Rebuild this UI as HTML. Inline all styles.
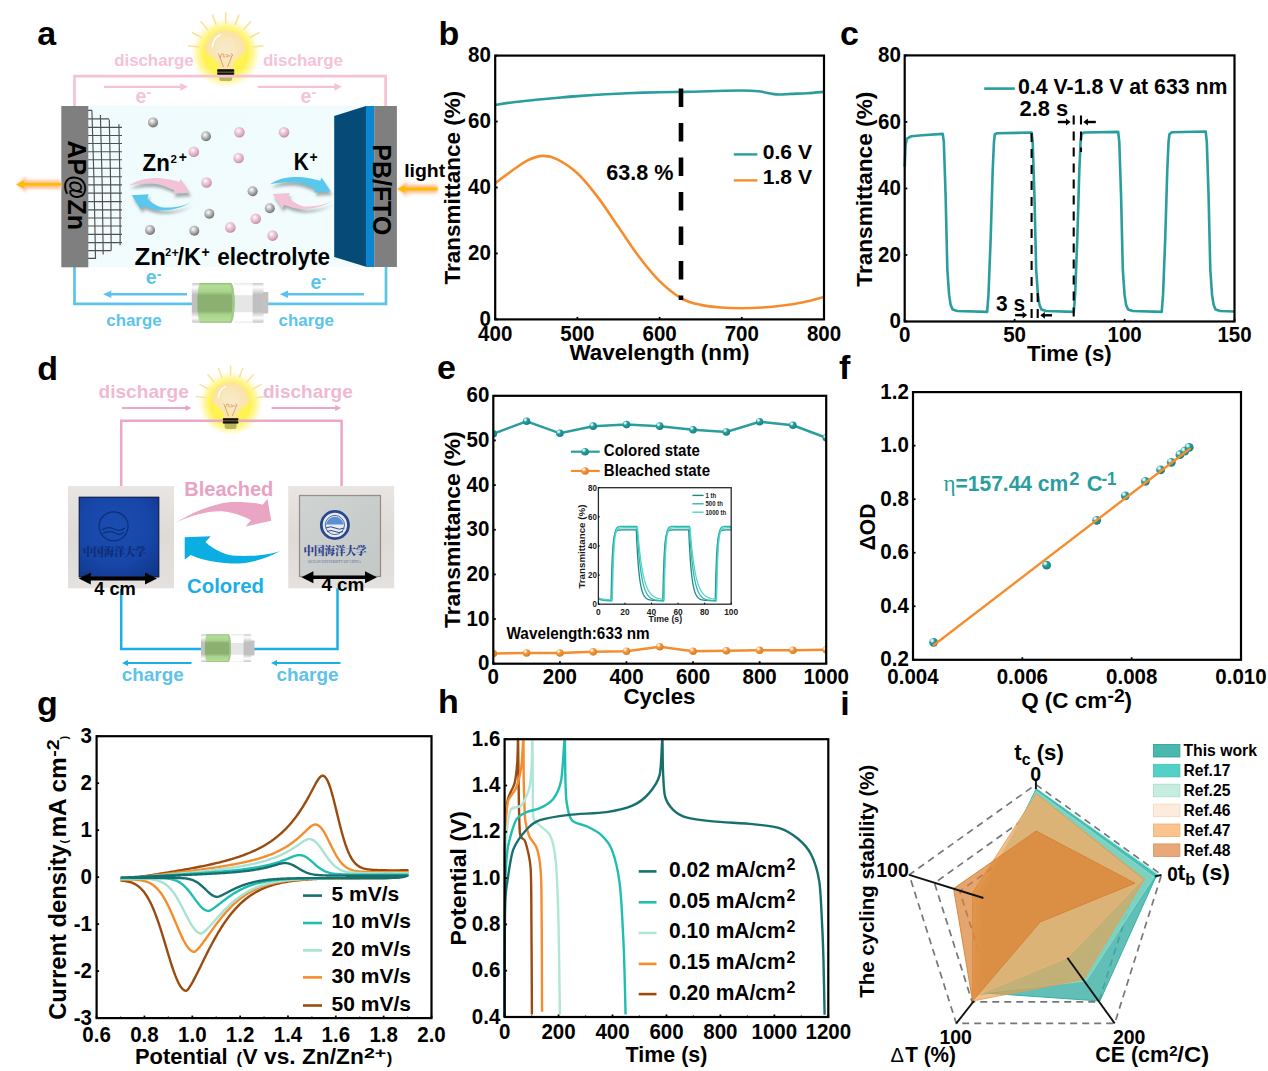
<!DOCTYPE html>
<html><head><meta charset="utf-8"><style>html,body{margin:0;padding:0;background:#fff;}svg{display:block;}</style></head>
<body><svg width="1268" height="1071" viewBox="0 0 1268 1071" font-family='"Liberation Sans", Arial, sans-serif'>
<defs><radialGradient id="gTeal" cx="0.38" cy="0.35" r="0.7"><stop offset="0" stop-color="#D8F4F4"/><stop offset="0.3" stop-color="#48B2B2"/><stop offset="1" stop-color="#17807F"/></radialGradient>
<radialGradient id="gTealF" cx="0.33" cy="0.3" r="0.75"><stop offset="0" stop-color="#F2FFFF"/><stop offset="0.18" stop-color="#BFE8E8"/><stop offset="0.38" stop-color="#25A09E"/><stop offset="1" stop-color="#177F7D"/></radialGradient>
<radialGradient id="gOrF" cx="0.33" cy="0.3" r="0.75"><stop offset="0" stop-color="#FFFFFF"/><stop offset="0.18" stop-color="#FDE2C4"/><stop offset="0.38" stop-color="#F39A44"/><stop offset="1" stop-color="#D97718"/></radialGradient>
<radialGradient id="gOr" cx="0.38" cy="0.35" r="0.7"><stop offset="0" stop-color="#FFF2E0"/><stop offset="0.35" stop-color="#F8AE64"/><stop offset="1" stop-color="#E07A18"/></radialGradient><radialGradient id="gPinkBall" cx="0.4" cy="0.35" r="0.65"><stop offset="0" stop-color="#FFFFFF"/><stop offset="0.3" stop-color="#F4D4E2"/><stop offset="0.8" stop-color="#D7A6BC"/><stop offset="1" stop-color="#B88AA0"/></radialGradient>
<radialGradient id="gGrayBall" cx="0.4" cy="0.35" r="0.65"><stop offset="0" stop-color="#FFFFFF"/><stop offset="0.3" stop-color="#D2D2D2"/><stop offset="0.8" stop-color="#8E8E8E"/><stop offset="1" stop-color="#6A6A6A"/></radialGradient>
<radialGradient id="gGlow" cx="0.5" cy="0.5" r="0.5"><stop offset="0" stop-color="#FFF36A"/><stop offset="0.6" stop-color="#FFF24E"/><stop offset="0.78" stop-color="#FFF690" stop-opacity="0.85"/><stop offset="0.9" stop-color="#FFFAC8" stop-opacity="0.5"/><stop offset="1" stop-color="#FFFFFF" stop-opacity="0"/></radialGradient>
<radialGradient id="gGlass" cx="0.5" cy="0.55" r="0.5"><stop offset="0" stop-color="#F7EBC8"/><stop offset="0.6" stop-color="#FAE6B4"/><stop offset="1" stop-color="#FCE3A6"/></radialGradient>
<linearGradient id="gCell" x1="0" y1="0" x2="1" y2="1"><stop offset="0" stop-color="#EFFBFD"/><stop offset="1" stop-color="#F3FCFD"/></linearGradient>
<linearGradient id="gBatGray" x1="0" y1="0" x2="0" y2="1"><stop offset="0" stop-color="#C4C4C4"/><stop offset="0.1" stop-color="#FFFFFF"/><stop offset="0.3" stop-color="#C0C0C0"/><stop offset="0.72" stop-color="#C0C0C0"/><stop offset="0.88" stop-color="#FFFFFF"/><stop offset="1" stop-color="#C4C4C4"/></linearGradient>
<linearGradient id="gBatGreen" x1="0" y1="0" x2="0" y2="1"><stop offset="0" stop-color="#8DB673"/><stop offset="0.06" stop-color="#B4DE98"/><stop offset="0.22" stop-color="#A9D48C"/><stop offset="0.32" stop-color="#8BB070"/><stop offset="0.7" stop-color="#8BB070"/><stop offset="0.8" stop-color="#A9D48C"/><stop offset="0.95" stop-color="#B4DE98"/><stop offset="1" stop-color="#8DB673"/></linearGradient>
<linearGradient id="gBatClear" x1="0" y1="0" x2="0" y2="1"><stop offset="0" stop-color="#E8E8E8"/><stop offset="0.08" stop-color="#FFFFFF"/><stop offset="0.3" stop-color="#FFFFFF"/><stop offset="0.32" stop-color="#E6E6E6"/><stop offset="0.72" stop-color="#E6E6E6"/><stop offset="0.75" stop-color="#FFFFFF"/><stop offset="0.95" stop-color="#FFFFFF"/><stop offset="1" stop-color="#E8E8E8"/></linearGradient>
<filter id="fShadow" x="-20%" y="-30%" width="140%" height="180%"><feGaussianBlur stdDeviation="1.6"/></filter>
<filter id="fGlowO" x="-30%" y="-100%" width="160%" height="300%"><feGaussianBlur stdDeviation="1.8"/></filter>
<radialGradient id="gPhotoL" cx="0.45" cy="0.4" r="0.75"><stop offset="0" stop-color="#1A4DB0"/><stop offset="0.6" stop-color="#1746A8"/><stop offset="1" stop-color="#10368A"/></radialGradient>
<linearGradient id="gPhotoR" x1="0" y1="0" x2="1" y2="1"><stop offset="0" stop-color="#CFD3D2"/><stop offset="1" stop-color="#C3C7C6"/></linearGradient>
<linearGradient id="gFrame" x1="0" y1="0" x2="0" y2="1"><stop offset="0" stop-color="#E9E5E2"/><stop offset="0.5" stop-color="#DEDAD6"/><stop offset="1" stop-color="#E5E1DE"/></linearGradient><clipPath id="clipE"><rect x="493.3" y="395.8" width="332.90" height="267.90"/></clipPath></defs>
<rect width="1268" height="1071" fill="#fff"/>
<text x="37.2" y="45.3" font-size="34" fill="#000" font-weight="bold">a</text>
<path d="M74.5,266 V303.8 H192 M268,303.8 H386 V266" fill="none" stroke="#5CC4EA" stroke-width="2.7"/>
<g transform="translate(225.7,50.3) scale(1.0)"><circle cx="0" cy="3" r="36" fill="url(#gGlow)"/><line x1="-27.30" y1="-3.35" x2="-37.22" y2="-4.57" stroke="#F8E2A4" stroke-width="1.7" stroke-linecap="round"/><line x1="-24.28" y1="-12.91" x2="-33.11" y2="-17.61" stroke="#F8E2A4" stroke-width="1.7" stroke-linecap="round"/><line x1="-18.04" y1="-20.75" x2="-24.60" y2="-28.30" stroke="#F8E2A4" stroke-width="1.7" stroke-linecap="round"/><line x1="-9.63" y1="-25.76" x2="-13.13" y2="-35.13" stroke="#F8E2A4" stroke-width="1.7" stroke-linecap="round"/><line x1="0.00" y1="-27.50" x2="0.00" y2="-37.50" stroke="#F8E2A4" stroke-width="1.7" stroke-linecap="round"/><line x1="9.63" y1="-25.76" x2="13.13" y2="-35.13" stroke="#F8E2A4" stroke-width="1.7" stroke-linecap="round"/><line x1="18.04" y1="-20.75" x2="24.60" y2="-28.30" stroke="#F8E2A4" stroke-width="1.7" stroke-linecap="round"/><line x1="24.28" y1="-12.91" x2="33.11" y2="-17.61" stroke="#F8E2A4" stroke-width="1.7" stroke-linecap="round"/><line x1="27.30" y1="-3.35" x2="37.22" y2="-4.57" stroke="#F8E2A4" stroke-width="1.7" stroke-linecap="round"/><path d="M-20.4,0 A20.4,20.4 0 1 1 20.4,0 L19.5,2 C16,5 10.5,8.5 8.3,11.5 C7,13.5 6.6,16 6.6,19 L-6.6,19 C-6.6,16 -7,13.5 -8.3,11.5 C-10.5,8.5 -16,5 -19.5,2 Z" fill="url(#gGlass)"/><rect x="-9.5" y="-13" width="19" height="22" rx="8" fill="#F6E9C8" opacity="0.6"/><path d="M-13.2,-3.5 A14,14 0 0 1 -5.5,-15.5" fill="none" stroke="#FFFFFF" stroke-width="1.4" stroke-linecap="round"/><path d="M-7.5,3.2 L-5.6,7.6 L-4.2,3.4 M-3.8,4 C-2.5,3 -1.2,4 -2,5.5 C-2.8,7 -1,7.5 -0.5,6 M0,4.5 C1.5,3.5 2.5,5.5 1,6.5 C2.5,7 3.5,5 3,4.5 M3.8,5.8 L5.2,5.6 M5.3,3.6 C7,3.2 7.2,5.5 6,6.2 M-5.6,7.6 L-2.2,16.7 M6.3,5.5 L1.8,16.7" fill="none" stroke="#D9874A" stroke-width="0.75"/><rect x="-6.5" y="23.5" width="13" height="7.2" rx="2.5" fill="#B9B462"/><rect x="-8.6" y="19" width="17.2" height="5.6" rx="1.5" fill="#9C9430"/><rect x="-8.6" y="19" width="17.2" height="2.5" rx="1.1" fill="#111"/><rect x="-8.6" y="22.3" width="17.2" height="2.3" rx="1.1" fill="#111"/></g>
<path d="M74.5,107 V76.2 H385.6 V107" fill="none" stroke="#F4C3D8" stroke-width="2.7"/>
<text x="114.2" y="66.2" font-size="16" fill="#F4C3D8" font-weight="bold" textLength="79.5" lengthAdjust="spacingAndGlyphs">discharge</text>
<text x="263.0" y="66.2" font-size="16" fill="#F4C3D8" font-weight="bold" textLength="80.0" lengthAdjust="spacingAndGlyphs">discharge</text>
<line x1="104" y1="86.8" x2="181.8" y2="86.8" stroke="#F4C3D8" stroke-width="2.3"/>
<path d="M188,86.8 L180.3,82.9 L180.3,90.7 Z" fill="#F4C3D8"/>
<line x1="258" y1="86.8" x2="335.8" y2="86.8" stroke="#F4C3D8" stroke-width="2.3"/>
<path d="M342,86.8 L334.3,82.9 L334.3,90.7 Z" fill="#F4C3D8"/>
<text x="135.6" y="102.8" font-size="19.5" fill="#F4C3D8" font-weight="bold">e<tspan font-size="14" dy="-5.6">-</tspan></text>
<text x="300.6" y="102.8" font-size="19.5" fill="#F4C3D8" font-weight="bold">e<tspan font-size="14" dy="-5.6">-</tspan></text>
<rect x="88" y="105.5" width="278" height="161.5" fill="url(#gCell)"/>
<path d="M91.9,110.4 Q94.5,184.75 95.5,259.1 M100.4,115 Q102.60000000000001,184.75 103.2,254.5 M109.3,119.6 Q111.05,185.1 111.2,250.6 M118.9,124.3 Q120.3,184.75 120.1,245.2 M88,110.4 H92 M88,118.9 H109 M88,127.3 H122 M88,135.5 H122 M88,143.5 H122 M88,151.7 H122 M88,159.7 H122 M88,168.2 H122 M88,176.7 H122 M88,184.8 H122 M88,193.1 H122 M88,201.6 H122 M88,209.8 H122 M88,218 H122 M88,226 H122 M88,234.4 H122 M88,242.6 H122 M88,250.6 H111.2 M88,258.3 H95.5" fill="none" stroke="#505050" stroke-width="1.15"/>
<rect x="61.3" y="106" width="27" height="161.3" fill="#7F7F7F"/>
<text transform="translate(67.6,140.4) rotate(90)" x="0" y="0" font-size="26" fill="#000" font-weight="bold" textLength="89.6" lengthAdjust="spacingAndGlyphs">AP@Zn</text>
<path d="M334.2,116 L366,106 L366,266.8 L334.2,257 Z" fill="#064A77"/>
<rect x="366" y="106" width="8.3" height="161" fill="#0C86CE"/>
<rect x="374.2" y="106" width="22.7" height="161" fill="#7F7F7F"/>
<text transform="translate(373.4,144.3) rotate(90)" x="0" y="0" font-size="26" fill="#000" font-weight="bold" textLength="91.0" lengthAdjust="spacingAndGlyphs">PB/FTO</text>
<circle cx="153.0" cy="122.4" r="5.0" fill="url(#gGrayBall)"/>
<circle cx="206.0" cy="136.3" r="5.0" fill="url(#gGrayBall)"/>
<circle cx="239.4" cy="132.3" r="5.3" fill="url(#gPinkBall)"/>
<circle cx="284.0" cy="132.3" r="5.3" fill="url(#gPinkBall)"/>
<circle cx="193.8" cy="151.7" r="5.3" fill="url(#gPinkBall)"/>
<circle cx="238.6" cy="158.0" r="5.3" fill="url(#gPinkBall)"/>
<circle cx="206.5" cy="182.5" r="5.3" fill="url(#gPinkBall)"/>
<circle cx="252.6" cy="191.3" r="5.0" fill="url(#gGrayBall)"/>
<circle cx="269.8" cy="208.3" r="5.0" fill="url(#gGrayBall)"/>
<circle cx="209.3" cy="213.8" r="5.0" fill="url(#gGrayBall)"/>
<circle cx="255.7" cy="218.8" r="5.3" fill="url(#gPinkBall)"/>
<circle cx="230.3" cy="227.4" r="5.3" fill="url(#gPinkBall)"/>
<circle cx="194.3" cy="230.7" r="5.0" fill="url(#gGrayBall)"/>
<circle cx="150.0" cy="230.0" r="5.0" fill="url(#gGrayBall)"/>
<circle cx="272.6" cy="235.6" r="5.3" fill="url(#gPinkBall)"/>
<text x="142.6" y="171.0" font-size="23" fill="#000" font-weight="bold" textLength="27.2" lengthAdjust="spacingAndGlyphs">Zn</text>
<text x="170.6" y="163.1" font-size="11.5" fill="#000" font-weight="bold">2</text>
<text x="178.7" y="162.3" font-size="14" fill="#000" font-weight="bold">+</text>
<text x="293.8" y="169.8" font-size="23" fill="#000" font-weight="bold" textLength="15.1" lengthAdjust="spacingAndGlyphs">K</text>
<text x="309.5" y="162.3" font-size="14" fill="#000" font-weight="bold">+</text>
<g transform="translate(0,0)"><g filter="url(#fShadow)" opacity="0.55"><path d="M129.1,185.5 C134,182 140,179 151.5,178.2 C162,177.6 172,179.8 179.2,181.9 L180.6,178.8 L189.7,192.7 L173,193.7 L174.5,190.2 C168,187.5 160,183.6 151.5,183.4 C141,183.2 134,184.3 129.1,185.5 Z" transform="translate(1.5,3.5)" fill="#5E6E6E"/><path d="M192.2,201.2 C186,205.5 176,207.8 164.2,207.6 C157,207.3 151.5,202.3 147.2,198.8 L148.7,194.3 L131.7,195.2 L141.1,209.4 L143.4,205.9 C150,208.5 157,210.6 164.2,210.3 C177,209.7 186,205.6 192.2,201.2 Z" transform="translate(1.5,3.5)" fill="#5E6E6E"/></g><path d="M129.1,185.5 C134,182 140,179 151.5,178.2 C162,177.6 172,179.8 179.2,181.9 L180.6,178.8 L189.7,192.7 L173,193.7 L174.5,190.2 C168,187.5 160,183.6 151.5,183.4 C141,183.2 134,184.3 129.1,185.5 Z" fill="#F2C3D7"/><path d="M192.2,201.2 C186,205.5 176,207.8 164.2,207.6 C157,207.3 151.5,202.3 147.2,198.8 L148.7,194.3 L131.7,195.2 L141.1,209.4 L143.4,205.9 C150,208.5 157,210.6 164.2,210.3 C177,209.7 186,205.6 192.2,201.2 Z" fill="#5AC8EC"/></g>
<g transform="translate(141,-1.2)"><g filter="url(#fShadow)" opacity="0.55"><path d="M129.1,185.5 C134,182 140,179 151.5,178.2 C162,177.6 172,179.8 179.2,181.9 L180.6,178.8 L189.7,192.7 L173,193.7 L174.5,190.2 C168,187.5 160,183.6 151.5,183.4 C141,183.2 134,184.3 129.1,185.5 Z" transform="translate(1.5,3.5)" fill="#5E6E6E"/><path d="M192.2,201.2 C186,205.5 176,207.8 164.2,207.6 C157,207.3 151.5,202.3 147.2,198.8 L148.7,194.3 L131.7,195.2 L141.1,209.4 L143.4,205.9 C150,208.5 157,210.6 164.2,210.3 C177,209.7 186,205.6 192.2,201.2 Z" transform="translate(1.5,3.5)" fill="#5E6E6E"/></g><path d="M129.1,185.5 C134,182 140,179 151.5,178.2 C162,177.6 172,179.8 179.2,181.9 L180.6,178.8 L189.7,192.7 L173,193.7 L174.5,190.2 C168,187.5 160,183.6 151.5,183.4 C141,183.2 134,184.3 129.1,185.5 Z" fill="#5AC8EC"/><path d="M192.2,201.2 C186,205.5 176,207.8 164.2,207.6 C157,207.3 151.5,202.3 147.2,198.8 L148.7,194.3 L131.7,195.2 L141.1,209.4 L143.4,205.9 C150,208.5 157,210.6 164.2,210.3 C177,209.7 186,205.6 192.2,201.2 Z" fill="#F2C3D7"/></g>
<text x="134.5" y="264.5" font-size="23.5" fill="#000" font-weight="bold" textLength="31.6" lengthAdjust="spacingAndGlyphs">Zn</text>
<text x="165.2" y="255.8" font-size="10.5" fill="#000" font-weight="bold">2</text>
<text x="171.6" y="256.9" font-size="12.5" fill="#000" font-weight="bold">+</text>
<text x="177.6" y="264.5" font-size="23.5" fill="#000" font-weight="bold" textLength="23.3" lengthAdjust="spacingAndGlyphs">/K</text>
<text x="201.5" y="256.9" font-size="14" fill="#000" font-weight="bold">+</text>
<text x="217.2" y="264.5" font-size="23.5" fill="#000" font-weight="bold" textLength="112.9" lengthAdjust="spacingAndGlyphs">electrolyte</text>
<line x1="187" y1="294.3" x2="109.6" y2="294.3" stroke="#5CC4EA" stroke-width="2.4"/>
<path d="M103,294.3 L111.3,290.6 L111.3,298.0 Z" fill="#5CC4EA"/>
<line x1="364" y1="294.3" x2="286.3" y2="294.3" stroke="#5CC4EA" stroke-width="2.4"/>
<path d="M279.7,294.3 L288.0,290.6 L288.0,298.0 Z" fill="#5CC4EA"/>
<text x="145.8" y="284.4" font-size="19.5" fill="#5CC4EA" font-weight="bold">e<tspan font-size="14" dy="-5.8">-</tspan></text>
<text x="310.6" y="289.0" font-size="19.5" fill="#5CC4EA" font-weight="bold">e<tspan font-size="14" dy="-5.8">-</tspan></text>
<text x="106.3" y="325.5" font-size="16.8" fill="#5CC4EA" font-weight="bold" textLength="55.3" lengthAdjust="spacingAndGlyphs">charge</text>
<text x="278.6" y="325.5" font-size="16.8" fill="#5CC4EA" font-weight="bold" textLength="55.3" lengthAdjust="spacingAndGlyphs">charge</text>
<g transform="translate(191.8,282.9) scale(1.0)"><rect x="0" y="0" width="11" height="39.8" rx="2" fill="url(#gBatGray)"/><rect x="42" y="0" width="19.5" height="39.8" fill="url(#gBatClear)"/><rect x="60.8" y="0" width="11" height="39.8" rx="1.5" fill="url(#gBatGray)"/><rect x="71" y="9" width="5.5" height="21.6" rx="1" fill="#C2C2C2"/><path d="M8.7,0 H39 A3.8,19.9 0 0 1 39,39.8 H8.7 A3.2,19.9 0 0 1 8.7,0 Z" fill="url(#gBatGreen)"/><path d="M38,0.6 A3.6,19.3 0 0 1 38,39.2" fill="none" stroke="#A3C98A" stroke-width="2.2"/></g>
<g filter="url(#fGlowO)" opacity="1"><line x1="61" y1="184.4" x2="24" y2="184.4" stroke="#FFC090" stroke-width="8.5"/><path d="M17,184.4 L26,176.4 L26,192.4 Z" fill="#FFBF90"/></g>
<line x1="61" y1="184.4" x2="23.5" y2="184.4" stroke="#FFBB00" stroke-width="2.8"/>
<path d="M16,184.4 L24,180.3 L24,188.5 Z" fill="#FFBB00"/>
<g filter="url(#fGlowO)" opacity="1"><line x1="437.5" y1="189" x2="405" y2="189" stroke="#FFC090" stroke-width="8.5"/><path d="M398,189 L407,181 L407,197 Z" fill="#FFBF90"/></g>
<line x1="437.5" y1="189" x2="404.5" y2="189" stroke="#FFBB00" stroke-width="2.8"/>
<path d="M397,189 L405,184.9 L405,193.1 Z" fill="#FFBB00"/>
<text x="404.2" y="176.6" font-size="17.5" fill="#000" font-weight="bold" textLength="41.0" lengthAdjust="spacingAndGlyphs">light</text>
<path d="M495.20,105.06 C497.94,104.62 504.79,103.30 511.64,102.42 C518.49,101.55 528.08,100.61 536.30,99.79 C544.52,98.96 554.11,98.08 560.96,97.48 C567.81,96.87 570.55,96.65 577.40,96.16 C584.25,95.66 593.84,95.01 602.06,94.51 C610.28,94.02 617.13,93.58 626.72,93.19 C636.31,92.81 650.01,92.42 659.60,92.20 C669.19,91.98 676.04,92.04 684.26,91.87 C692.48,91.71 699.33,91.43 708.92,91.21 C718.51,90.99 733.58,90.55 741.80,90.55 C750.02,90.55 753.45,90.72 758.24,91.21 C763.03,91.71 767.14,92.97 770.57,93.52 C773.99,94.07 775.37,94.46 778.79,94.51 C782.21,94.57 786.33,94.07 791.12,93.85 C795.91,93.63 802.08,93.52 807.56,93.19 C813.04,92.86 821.26,92.09 824.00,91.87" fill="none" stroke="#2A9D9E" stroke-width="2.6"/>
<path d="M495.20,183.21 C497.94,181.18 506.16,174.86 511.64,171.01 C517.12,167.17 522.87,162.66 528.08,160.13 C533.29,157.60 538.08,156.01 542.88,155.84 C547.67,155.68 551.10,156.23 556.85,159.14 C562.60,162.05 570.55,166.95 577.40,173.32 C584.25,179.70 591.10,188.43 597.95,197.39 C604.80,206.35 611.65,217.18 618.50,227.07 C625.35,236.96 632.20,247.73 639.05,256.75 C645.90,265.76 652.48,274.17 659.60,281.15 C666.72,288.13 674.94,294.67 681.79,298.63 C688.64,302.58 694.12,303.41 700.70,304.89 C707.28,306.37 714.40,306.98 721.25,307.53 C728.10,308.08 734.95,308.19 741.80,308.19 C748.65,308.19 755.50,307.97 762.35,307.53 C769.20,307.09 776.05,306.43 782.90,305.55 C789.75,304.67 796.60,303.68 803.45,302.25 C810.30,300.82 820.58,297.86 824.00,296.98" fill="none" stroke="#F58D2E" stroke-width="2.6"/>
<line x1="681" y1="88.5" x2="681" y2="300" stroke="#000" stroke-width="4.6" stroke-dasharray="18.5,16"/>
<rect x="495.20" y="55.60" width="328.80" height="263.80" fill="none" stroke="#000" stroke-width="2.2"/>
<line x1="495.20" y1="319.40" x2="495.20" y2="316.90" stroke="#000" stroke-width="1.8"/>
<line x1="577.40" y1="319.40" x2="577.40" y2="316.90" stroke="#000" stroke-width="1.8"/>
<line x1="659.60" y1="319.40" x2="659.60" y2="316.90" stroke="#000" stroke-width="1.8"/>
<line x1="741.80" y1="319.40" x2="741.80" y2="316.90" stroke="#000" stroke-width="1.8"/>
<line x1="824.00" y1="319.40" x2="824.00" y2="316.90" stroke="#000" stroke-width="1.8"/>
<line x1="495.20" y1="319.40" x2="497.70" y2="319.40" stroke="#000" stroke-width="1.8"/>
<line x1="495.20" y1="253.45" x2="497.70" y2="253.45" stroke="#000" stroke-width="1.8"/>
<line x1="495.20" y1="187.50" x2="497.70" y2="187.50" stroke="#000" stroke-width="1.8"/>
<line x1="495.20" y1="121.55" x2="497.70" y2="121.55" stroke="#000" stroke-width="1.8"/>
<line x1="495.20" y1="55.60" x2="497.70" y2="55.60" stroke="#000" stroke-width="1.8"/>
<text x="490.8" y="326.0" font-size="21.69" fill="#000" text-anchor="end" font-weight="bold" textLength="11.4" lengthAdjust="spacingAndGlyphs">0</text>
<text x="490.8" y="260.1" font-size="21.69" fill="#000" text-anchor="end" font-weight="bold" textLength="22.8" lengthAdjust="spacingAndGlyphs">20</text>
<text x="490.8" y="194.1" font-size="21.69" fill="#000" text-anchor="end" font-weight="bold" textLength="22.8" lengthAdjust="spacingAndGlyphs">40</text>
<text x="490.8" y="128.2" font-size="21.69" fill="#000" text-anchor="end" font-weight="bold" textLength="22.8" lengthAdjust="spacingAndGlyphs">60</text>
<text x="490.8" y="62.2" font-size="21.69" fill="#000" text-anchor="end" font-weight="bold" textLength="22.8" lengthAdjust="spacingAndGlyphs">80</text>
<text x="495.2" y="340.7" font-size="21.69" fill="#000" text-anchor="middle" font-weight="bold" textLength="34.2" lengthAdjust="spacingAndGlyphs">400</text>
<text x="577.4" y="340.7" font-size="21.69" fill="#000" text-anchor="middle" font-weight="bold" textLength="34.2" lengthAdjust="spacingAndGlyphs">500</text>
<text x="659.6" y="340.7" font-size="21.69" fill="#000" text-anchor="middle" font-weight="bold" textLength="34.2" lengthAdjust="spacingAndGlyphs">600</text>
<text x="741.8" y="340.7" font-size="21.69" fill="#000" text-anchor="middle" font-weight="bold" textLength="34.2" lengthAdjust="spacingAndGlyphs">700</text>
<text x="824.0" y="340.7" font-size="21.69" fill="#000" text-anchor="middle" font-weight="bold" textLength="34.2" lengthAdjust="spacingAndGlyphs">800</text>
<text x="569.5" y="360.2" font-size="22" fill="#000" font-weight="bold" textLength="180.0" lengthAdjust="spacingAndGlyphs">Wavelength (nm)</text>
<text transform="translate(459.8,284.5) rotate(-90)" x="0" y="0" font-size="22.4" fill="#000" font-weight="bold" textLength="193.7" lengthAdjust="spacingAndGlyphs">Transmittance (%)</text>
<text x="606.2" y="180.2" font-size="21.4" fill="#000" font-weight="bold" textLength="67.2" lengthAdjust="spacingAndGlyphs">63.8 %</text>
<line x1="733.8" y1="154.4" x2="757.4" y2="154.4" stroke="#2A9D9E" stroke-width="2.4"/>
<line x1="733.8" y1="180.4" x2="757.4" y2="180.4" stroke="#F58D2E" stroke-width="2.4"/>
<text x="762.8" y="158.6" font-size="20.5" fill="#000" font-weight="bold" textLength="49.2" lengthAdjust="spacingAndGlyphs">0.6 V</text>
<text x="762.8" y="184.2" font-size="20.5" fill="#000" font-weight="bold" textLength="49.2" lengthAdjust="spacingAndGlyphs">1.8 V</text>
<text x="438.6" y="44.6" font-size="34" fill="#000" font-weight="bold">b</text>
<text x="840.0" y="44.6" font-size="34" fill="#000" font-weight="bold">c</text>
<text x="437.0" y="379.4" font-size="34" fill="#000" font-weight="bold">e</text>
<text x="839.0" y="379.4" font-size="34" fill="#000" font-weight="bold">f</text>
<text x="37.0" y="714.8" font-size="34" fill="#000" font-weight="bold">g</text>
<text x="438.0" y="712.8" font-size="34" fill="#000" font-weight="bold">h</text>
<path d="M904.70,166.83 L905.58,145.21 L906.90,138.56 L911.30,136.23 L922.29,135.23 L942.74,133.90 L943.84,141.88 L945.60,195.10 L947.35,269.61 L949.11,294.89 L950.65,304.87 L952.63,309.53 L957.25,311.02 L987.15,311.85 L988.47,294.89 L990.67,238.34 L992.65,171.82 L993.97,141.88 L994.85,134.23 L997.26,133.23 L1031.56,132.57 L1032.66,141.88 L1034.42,195.10 L1036.18,269.61 L1037.94,294.89 L1039.48,304.87 L1041.46,309.53 L1046.07,311.02 L1073.78,311.85 L1075.10,294.89 L1077.30,238.34 L1079.27,171.82 L1080.59,141.88 L1081.47,134.23 L1083.89,132.57 L1118.19,131.90 L1119.29,141.88 L1121.05,195.10 L1122.81,269.61 L1124.57,294.89 L1126.11,304.87 L1128.08,309.53 L1132.70,311.02 L1161.72,311.85 L1163.04,294.89 L1165.24,238.34 L1167.22,171.82 L1168.54,141.88 L1169.42,134.23 L1171.84,132.24 L1205.70,131.57 L1206.80,141.88 L1208.56,195.10 L1210.31,269.61 L1212.07,294.89 L1213.61,304.87 L1215.59,309.53 L1220.21,311.02 L1234.50,311.52" fill="none" stroke="#2A9D9E" stroke-width="2.6" stroke-linejoin="round"/>
<rect x="904.70" y="55.40" width="329.80" height="266.10" fill="none" stroke="#000" stroke-width="2.2"/>
<line x1="904.70" y1="321.50" x2="904.70" y2="318.90" stroke="#000" stroke-width="1.8"/>
<line x1="1014.63" y1="321.50" x2="1014.63" y2="318.90" stroke="#000" stroke-width="1.8"/>
<line x1="1124.57" y1="321.50" x2="1124.57" y2="318.90" stroke="#000" stroke-width="1.8"/>
<line x1="1234.50" y1="321.50" x2="1234.50" y2="318.90" stroke="#000" stroke-width="1.8"/>
<line x1="904.70" y1="321.50" x2="907.30" y2="321.50" stroke="#000" stroke-width="1.8"/>
<line x1="904.70" y1="254.97" x2="907.30" y2="254.97" stroke="#000" stroke-width="1.8"/>
<line x1="904.70" y1="188.45" x2="907.30" y2="188.45" stroke="#000" stroke-width="1.8"/>
<line x1="904.70" y1="121.92" x2="907.30" y2="121.92" stroke="#000" stroke-width="1.8"/>
<line x1="904.70" y1="55.40" x2="907.30" y2="55.40" stroke="#000" stroke-width="1.8"/>
<text x="900.8" y="328.2" font-size="21.69" fill="#000" text-anchor="end" font-weight="bold" textLength="11.4" lengthAdjust="spacingAndGlyphs">0</text>
<text x="900.8" y="261.7" font-size="21.69" fill="#000" text-anchor="end" font-weight="bold" textLength="22.8" lengthAdjust="spacingAndGlyphs">20</text>
<text x="900.8" y="195.1" font-size="21.69" fill="#000" text-anchor="end" font-weight="bold" textLength="22.8" lengthAdjust="spacingAndGlyphs">40</text>
<text x="900.8" y="128.6" font-size="21.69" fill="#000" text-anchor="end" font-weight="bold" textLength="22.8" lengthAdjust="spacingAndGlyphs">60</text>
<text x="900.8" y="62.1" font-size="21.69" fill="#000" text-anchor="end" font-weight="bold" textLength="22.8" lengthAdjust="spacingAndGlyphs">80</text>
<text x="904.7" y="342.2" font-size="21.69" fill="#000" text-anchor="middle" font-weight="bold" textLength="11.4" lengthAdjust="spacingAndGlyphs">0</text>
<text x="1014.6" y="342.2" font-size="21.69" fill="#000" text-anchor="middle" font-weight="bold" textLength="22.8" lengthAdjust="spacingAndGlyphs">50</text>
<text x="1124.6" y="342.2" font-size="21.69" fill="#000" text-anchor="middle" font-weight="bold" textLength="34.2" lengthAdjust="spacingAndGlyphs">100</text>
<text x="1234.5" y="342.2" font-size="21.69" fill="#000" text-anchor="middle" font-weight="bold" textLength="34.2" lengthAdjust="spacingAndGlyphs">150</text>
<text x="1027.0" y="361.4" font-size="22.4" fill="#000" font-weight="bold" textLength="84.6" lengthAdjust="spacingAndGlyphs">Time (s)</text>
<text transform="translate(872.1,286.7) rotate(-90)" x="0" y="0" font-size="22.8" fill="#000" font-weight="bold" textLength="195.0" lengthAdjust="spacingAndGlyphs">Transmittance (%)</text>
<line x1="984.2" y1="88.6" x2="1014.8" y2="88.6" stroke="#2A9D9E" stroke-width="2.6"/>
<text x="1018.0" y="94.0" font-size="21.3" fill="#000" font-weight="bold" textLength="209.5" lengthAdjust="spacingAndGlyphs">0.4 V-1.8 V at 633 nm</text>
<text x="1019.6" y="115.9" font-size="22" fill="#000" font-weight="bold" textLength="48.6" lengthAdjust="spacingAndGlyphs">2.8 s</text>
<text x="996.0" y="310.8" font-size="22" fill="#000" font-weight="bold" textLength="29.0" lengthAdjust="spacingAndGlyphs">3 s</text>
<line x1="1031.6" y1="133" x2="1031.6" y2="323" stroke="#000" stroke-width="2.1" stroke-dasharray="9,7"/>
<line x1="1037.7" y1="293" x2="1037.7" y2="318.6" stroke="#000" stroke-width="2.1" stroke-dasharray="9,7"/>
<line x1="1073.7" y1="115.4" x2="1073.7" y2="321" stroke="#000" stroke-width="2.1" stroke-dasharray="9,7"/>
<line x1="1081" y1="115.4" x2="1081" y2="152" stroke="#000" stroke-width="2.1" stroke-dasharray="9,7"/>
<line x1="1057.9" y1="122" x2="1067.6" y2="122" stroke="#000" stroke-width="2.4"/>
<path d="M1070.6,122 L1066.0,118.6 L1066.0,125.4 Z" fill="#000"/>
<line x1="1095.8" y1="122" x2="1086.3" y2="122" stroke="#000" stroke-width="2.4"/>
<path d="M1083.3,122 L1087.8999999999999,118.6 L1087.8999999999999,125.4 Z" fill="#000"/>
<line x1="1015.1" y1="315.1" x2="1024.2" y2="315.1" stroke="#000" stroke-width="2.4"/>
<path d="M1027.2,315.1 L1022.6,311.70000000000005 L1022.6,318.5 Z" fill="#000"/>
<line x1="1052" y1="315.3" x2="1043.3" y2="315.3" stroke="#000" stroke-width="2.4"/>
<path d="M1040.3,315.3 L1044.8999999999999,311.90000000000003 L1044.8999999999999,318.7 Z" fill="#000"/>
<text x="37.2" y="379.6" font-size="34" fill="#000" font-weight="bold">d</text>
<path d="M121.2,589 V649 H201 M254,649 H337.5 V588" fill="none" stroke="#1CAEE4" stroke-width="2.5"/>
<g transform="translate(230.6,400.8) scale(0.92)"><circle cx="0" cy="3" r="36" fill="url(#gGlow)"/><line x1="-27.30" y1="-3.35" x2="-37.22" y2="-4.57" stroke="#F8E2A4" stroke-width="1.7" stroke-linecap="round"/><line x1="-24.28" y1="-12.91" x2="-33.11" y2="-17.61" stroke="#F8E2A4" stroke-width="1.7" stroke-linecap="round"/><line x1="-18.04" y1="-20.75" x2="-24.60" y2="-28.30" stroke="#F8E2A4" stroke-width="1.7" stroke-linecap="round"/><line x1="-9.63" y1="-25.76" x2="-13.13" y2="-35.13" stroke="#F8E2A4" stroke-width="1.7" stroke-linecap="round"/><line x1="0.00" y1="-27.50" x2="0.00" y2="-37.50" stroke="#F8E2A4" stroke-width="1.7" stroke-linecap="round"/><line x1="9.63" y1="-25.76" x2="13.13" y2="-35.13" stroke="#F8E2A4" stroke-width="1.7" stroke-linecap="round"/><line x1="18.04" y1="-20.75" x2="24.60" y2="-28.30" stroke="#F8E2A4" stroke-width="1.7" stroke-linecap="round"/><line x1="24.28" y1="-12.91" x2="33.11" y2="-17.61" stroke="#F8E2A4" stroke-width="1.7" stroke-linecap="round"/><line x1="27.30" y1="-3.35" x2="37.22" y2="-4.57" stroke="#F8E2A4" stroke-width="1.7" stroke-linecap="round"/><path d="M-20.4,0 A20.4,20.4 0 1 1 20.4,0 L19.5,2 C16,5 10.5,8.5 8.3,11.5 C7,13.5 6.6,16 6.6,19 L-6.6,19 C-6.6,16 -7,13.5 -8.3,11.5 C-10.5,8.5 -16,5 -19.5,2 Z" fill="url(#gGlass)"/><rect x="-9.5" y="-13" width="19" height="22" rx="8" fill="#F6E9C8" opacity="0.6"/><path d="M-13.2,-3.5 A14,14 0 0 1 -5.5,-15.5" fill="none" stroke="#FFFFFF" stroke-width="1.4" stroke-linecap="round"/><path d="M-7.5,3.2 L-5.6,7.6 L-4.2,3.4 M-3.8,4 C-2.5,3 -1.2,4 -2,5.5 C-2.8,7 -1,7.5 -0.5,6 M0,4.5 C1.5,3.5 2.5,5.5 1,6.5 C2.5,7 3.5,5 3,4.5 M3.8,5.8 L5.2,5.6 M5.3,3.6 C7,3.2 7.2,5.5 6,6.2 M-5.6,7.6 L-2.2,16.7 M6.3,5.5 L1.8,16.7" fill="none" stroke="#D9874A" stroke-width="0.75"/><rect x="-6.5" y="23.5" width="13" height="7.2" rx="2.5" fill="#B9B462"/><rect x="-8.6" y="19" width="17.2" height="5.6" rx="1.5" fill="#9C9430"/><rect x="-8.6" y="19" width="17.2" height="2.5" rx="1.1" fill="#111"/><rect x="-8.6" y="22.3" width="17.2" height="2.3" rx="1.1" fill="#111"/></g>
<path d="M121.2,486 V420.8 H223 M238.3,420.8 H341.6 V486" fill="none" stroke="#EBA7C7" stroke-width="2.5"/>
<text x="98.5" y="398.0" font-size="19" fill="#F0B9D2" font-weight="bold" textLength="90.3" lengthAdjust="spacingAndGlyphs">discharge</text>
<text x="263.0" y="398.0" font-size="19" fill="#F0B9D2" font-weight="bold" textLength="89.8" lengthAdjust="spacingAndGlyphs">discharge</text>
<line x1="122" y1="408" x2="186.7" y2="408" stroke="#EBA7C7" stroke-width="1.8"/>
<path d="M191.5,408 L185.5,405.0 L185.5,411.0 Z" fill="#EBA7C7"/>
<line x1="271.6" y1="408" x2="336.4" y2="408" stroke="#EBA7C7" stroke-width="1.8"/>
<path d="M341.2,408 L335.2,405.0 L335.2,411.0 Z" fill="#EBA7C7"/>
<rect x="68" y="486" width="106" height="102.3" fill="url(#gFrame)"/>
<rect x="78.8" y="496.8" width="80.4" height="80.5" fill="url(#gPhotoL)"/>
<rect x="79.3" y="497.3" width="79.4" height="79.5" fill="none" stroke="#1A1A30" stroke-width="1.2" opacity="0.7"/>
<circle cx="113.6" cy="526.3" r="14.5" fill="none" stroke="#0D2E78" stroke-width="1.2"/>
<path d="M102,530 Q108,526 114,529 T125,528 M103,533.5 Q109,530 115,533 T124,532" fill="none" stroke="#0D2E78" stroke-width="1.2"/>
<text x="82.8" y="556" font-family="&quot;Liberation Serif&quot;, &quot;Noto Serif CJK SC&quot;, serif" font-size="11" font-weight="900" fill="#0E2C74" textLength="63" lengthAdjust="spacingAndGlyphs">中国海洋大学</text>
<rect x="288.2" y="486" width="106" height="102.3" fill="url(#gFrame)"/>
<rect x="299.5" y="495.5" width="81" height="81" fill="url(#gPhotoR)"/>
<rect x="299.5" y="495.5" width="81" height="81" fill="none" stroke="#6A5A50" stroke-width="1.2" opacity="0.6"/>
<circle cx="334.9" cy="525" r="13.6" fill="#E8ECF2" stroke="#2A4890" stroke-width="2.8"/>
<circle cx="334.9" cy="525" r="9.6" fill="none" stroke="#2A4890" stroke-width="0.8"/>
<path d="M326,524.5 A9,9 0 0 1 343.8,524.5 Z" fill="#5B8FD0"/>
<path d="M326,528 Q330.5,525.5 335,528 T344,528 M327,531.5 Q331,529.5 335,531.5 T343,531.5" fill="none" stroke="#2A4890" stroke-width="1"/>
<text x="303.5" y="555" font-family="&quot;Liberation Serif&quot;, &quot;Noto Serif CJK SC&quot;, serif" font-size="11.5" font-weight="900" fill="#2B408C" textLength="63" lengthAdjust="spacingAndGlyphs">中国海洋大学</text>
<text x="334.5" y="562.5" font-family="Liberation Serif, serif" font-size="3.6" fill="#5A6A90" text-anchor="middle">OCEAN UNIVERSITY OF CHINA</text>
<line x1="86.8" y1="578.6" x2="149" y2="578.6" stroke="#000" stroke-width="3.6"/>
<path d="M78.8,578.6 L90.8,572.6 L90.8,584.6 Z M157,578.6 L145,572.6 L145,584.6 Z" fill="#000"/>
<line x1="309.4" y1="577.3" x2="369" y2="577.3" stroke="#000" stroke-width="3.6"/>
<path d="M301.4,577.3 L313.4,571.3 L313.4,583.3 Z M377,577.3 L365,571.3 L365,583.3 Z" fill="#000"/>
<text x="94.2" y="594.7" font-size="17.5" fill="#000" font-weight="bold" textLength="41.7" lengthAdjust="spacingAndGlyphs">4 cm</text>
<text x="321.4" y="590.7" font-size="17.5" fill="#000" font-weight="bold" textLength="43.0" lengthAdjust="spacingAndGlyphs">4 cm</text>
<text x="184.3" y="495.7" font-size="21" fill="#E8A3C3" font-weight="bold" textLength="89.0" lengthAdjust="spacingAndGlyphs">Bleached</text>
<text x="187.0" y="592.8" font-size="21" fill="#1CAEE4" font-weight="bold" textLength="77.0" lengthAdjust="spacingAndGlyphs">Colored</text>
<path d="M175.2,523.1 C190,514 210,504 231,502 C245,501.5 256,503 262.7,504.7 L267.5,499 L271.3,520.8 L245.7,526.4 L250.9,520.3 C244,516.5 233,512 222,511.3 C208,510.6 190,515.5 175.2,523.1 Z" fill="#E9A5C3"/>
<path d="M279.8,551.3 C270,554.5 255,556.5 236.2,555.8 C226,555.3 214,550 205.5,541.9 L210.7,536.2 L184.7,537.3 L184.7,559.6 L190.8,555.1 C198,558.5 212,562.8 231.5,563.6 C250,564 266,558.5 279.8,551.3 Z" fill="#0AAEE2"/>
<line x1="191.5" y1="663" x2="126.8" y2="663" stroke="#1CAEE4" stroke-width="1.8"/>
<path d="M122,663 L128.0,660.0 L128.0,666.0 Z" fill="#1CAEE4"/>
<line x1="340.5" y1="663" x2="275.8" y2="663" stroke="#1CAEE4" stroke-width="1.8"/>
<path d="M271,663 L277.0,660.0 L277.0,666.0 Z" fill="#1CAEE4"/>
<text x="121.8" y="681.0" font-size="19" fill="#5CC3EA" font-weight="bold" textLength="62.0" lengthAdjust="spacingAndGlyphs">charge</text>
<text x="276.5" y="681.0" font-size="19" fill="#5CC3EA" font-weight="bold" textLength="62.0" lengthAdjust="spacingAndGlyphs">charge</text>
<g transform="translate(201,634.2) scale(0.7)"><rect x="0" y="0" width="11" height="39.8" rx="2" fill="url(#gBatGray)"/><rect x="42" y="0" width="19.5" height="39.8" fill="url(#gBatClear)"/><rect x="60.8" y="0" width="11" height="39.8" rx="1.5" fill="url(#gBatGray)"/><rect x="71" y="9" width="5.5" height="21.6" rx="1" fill="#C2C2C2"/><path d="M8.7,0 H39 A3.8,19.9 0 0 1 39,39.8 H8.7 A3.2,19.9 0 0 1 8.7,0 Z" fill="url(#gBatGreen)"/><path d="M38,0.6 A3.6,19.3 0 0 1 38,39.2" fill="none" stroke="#A3C98A" stroke-width="2.2"/></g>
<g clip-path="url(#clipE)">
<path d="M493.30,433.75 L526.59,421.25 L559.88,433.31 L593.17,426.16 L626.46,424.60 L659.75,426.16 L693.04,429.73 L726.33,431.97 L759.62,421.70 L792.91,425.27 L826.20,437.77" fill="none" stroke="#2A9D9E" stroke-width="2.5"/>
<circle cx="493.30" cy="433.75" r="3.8" fill="url(#gTealF)"/>
<circle cx="526.59" cy="421.25" r="3.8" fill="url(#gTealF)"/>
<circle cx="559.88" cy="433.31" r="3.8" fill="url(#gTealF)"/>
<circle cx="593.17" cy="426.16" r="3.8" fill="url(#gTealF)"/>
<circle cx="626.46" cy="424.60" r="3.8" fill="url(#gTealF)"/>
<circle cx="659.75" cy="426.16" r="3.8" fill="url(#gTealF)"/>
<circle cx="693.04" cy="429.73" r="3.8" fill="url(#gTealF)"/>
<circle cx="726.33" cy="431.97" r="3.8" fill="url(#gTealF)"/>
<circle cx="759.62" cy="421.70" r="3.8" fill="url(#gTealF)"/>
<circle cx="792.91" cy="425.27" r="3.8" fill="url(#gTealF)"/>
<circle cx="826.20" cy="437.77" r="3.8" fill="url(#gTealF)"/>
<path d="M493.30,653.43 L526.59,652.98 L559.88,652.98 L593.17,651.87 L626.46,651.20 L659.75,646.73 L693.04,651.20 L726.33,650.75 L759.62,650.31 L792.91,650.31 L826.20,649.86" fill="none" stroke="#F58D2E" stroke-width="2.5"/>
<circle cx="493.30" cy="653.43" r="3.8" fill="url(#gOrF)"/>
<circle cx="526.59" cy="652.98" r="3.8" fill="url(#gOrF)"/>
<circle cx="559.88" cy="652.98" r="3.8" fill="url(#gOrF)"/>
<circle cx="593.17" cy="651.87" r="3.8" fill="url(#gOrF)"/>
<circle cx="626.46" cy="651.20" r="3.8" fill="url(#gOrF)"/>
<circle cx="659.75" cy="646.73" r="3.8" fill="url(#gOrF)"/>
<circle cx="693.04" cy="651.20" r="3.8" fill="url(#gOrF)"/>
<circle cx="726.33" cy="650.75" r="3.8" fill="url(#gOrF)"/>
<circle cx="759.62" cy="650.31" r="3.8" fill="url(#gOrF)"/>
<circle cx="792.91" cy="650.31" r="3.8" fill="url(#gOrF)"/>
<circle cx="826.20" cy="649.86" r="3.8" fill="url(#gOrF)"/>
</g>
<rect x="493.30" y="395.80" width="332.90" height="267.90" fill="none" stroke="#000" stroke-width="2.2"/>
<line x1="493.30" y1="663.70" x2="493.30" y2="661.20" stroke="#000" stroke-width="1.8"/>
<line x1="559.88" y1="663.70" x2="559.88" y2="661.20" stroke="#000" stroke-width="1.8"/>
<line x1="626.46" y1="663.70" x2="626.46" y2="661.20" stroke="#000" stroke-width="1.8"/>
<line x1="693.04" y1="663.70" x2="693.04" y2="661.20" stroke="#000" stroke-width="1.8"/>
<line x1="759.62" y1="663.70" x2="759.62" y2="661.20" stroke="#000" stroke-width="1.8"/>
<line x1="826.20" y1="663.70" x2="826.20" y2="661.20" stroke="#000" stroke-width="1.8"/>
<line x1="493.30" y1="663.70" x2="495.80" y2="663.70" stroke="#000" stroke-width="1.8"/>
<line x1="493.30" y1="619.05" x2="495.80" y2="619.05" stroke="#000" stroke-width="1.8"/>
<line x1="493.30" y1="574.40" x2="495.80" y2="574.40" stroke="#000" stroke-width="1.8"/>
<line x1="493.30" y1="529.75" x2="495.80" y2="529.75" stroke="#000" stroke-width="1.8"/>
<line x1="493.30" y1="485.10" x2="495.80" y2="485.10" stroke="#000" stroke-width="1.8"/>
<line x1="493.30" y1="440.45" x2="495.80" y2="440.45" stroke="#000" stroke-width="1.8"/>
<line x1="493.30" y1="395.80" x2="495.80" y2="395.80" stroke="#000" stroke-width="1.8"/>
<text x="489.3" y="670.3" font-size="21.69" fill="#000" text-anchor="end" font-weight="bold" textLength="11.4" lengthAdjust="spacingAndGlyphs">0</text>
<text x="489.3" y="625.7" font-size="21.69" fill="#000" text-anchor="end" font-weight="bold" textLength="22.8" lengthAdjust="spacingAndGlyphs">10</text>
<text x="489.3" y="581.0" font-size="21.69" fill="#000" text-anchor="end" font-weight="bold" textLength="22.8" lengthAdjust="spacingAndGlyphs">20</text>
<text x="489.3" y="536.4" font-size="21.69" fill="#000" text-anchor="end" font-weight="bold" textLength="22.8" lengthAdjust="spacingAndGlyphs">30</text>
<text x="489.3" y="491.7" font-size="21.69" fill="#000" text-anchor="end" font-weight="bold" textLength="22.8" lengthAdjust="spacingAndGlyphs">40</text>
<text x="489.3" y="447.1" font-size="21.69" fill="#000" text-anchor="end" font-weight="bold" textLength="22.8" lengthAdjust="spacingAndGlyphs">50</text>
<text x="489.3" y="402.4" font-size="21.69" fill="#000" text-anchor="end" font-weight="bold" textLength="22.8" lengthAdjust="spacingAndGlyphs">60</text>
<text x="493.3" y="684.3" font-size="21.69" fill="#000" text-anchor="middle" font-weight="bold" textLength="11.4" lengthAdjust="spacingAndGlyphs">0</text>
<text x="559.9" y="684.3" font-size="21.69" fill="#000" text-anchor="middle" font-weight="bold" textLength="34.2" lengthAdjust="spacingAndGlyphs">200</text>
<text x="626.5" y="684.3" font-size="21.69" fill="#000" text-anchor="middle" font-weight="bold" textLength="34.2" lengthAdjust="spacingAndGlyphs">400</text>
<text x="693.0" y="684.3" font-size="21.69" fill="#000" text-anchor="middle" font-weight="bold" textLength="34.2" lengthAdjust="spacingAndGlyphs">600</text>
<text x="759.6" y="684.3" font-size="21.69" fill="#000" text-anchor="middle" font-weight="bold" textLength="34.2" lengthAdjust="spacingAndGlyphs">800</text>
<text x="826.2" y="684.3" font-size="21.69" fill="#000" text-anchor="middle" font-weight="bold" textLength="45.6" lengthAdjust="spacingAndGlyphs">1000</text>
<text x="623.5" y="703.5" font-size="22.4" fill="#000" font-weight="bold" textLength="72.0" lengthAdjust="spacingAndGlyphs">Cycles</text>
<text transform="translate(460.0,628.0) rotate(-90)" x="0" y="0" font-size="22.8" fill="#000" font-weight="bold" textLength="196.6" lengthAdjust="spacingAndGlyphs">Transmittance (%)</text>
<line x1="570.9" y1="451.7" x2="599.7" y2="451.7" stroke="#2A9D9E" stroke-width="2.2"/>
<circle cx="585.1" cy="451.7" r="3.8" fill="url(#gTealF)"/>
<line x1="570.9" y1="471" x2="599.7" y2="471" stroke="#F58D2E" stroke-width="2.2"/>
<circle cx="585.1" cy="471" r="3.8" fill="url(#gOrF)"/>
<text x="603.8" y="456.4" font-size="17" fill="#000" font-weight="bold" textLength="96.0" lengthAdjust="spacingAndGlyphs">Colored state</text>
<text x="603.8" y="475.6" font-size="17" fill="#000" font-weight="bold" textLength="106.2" lengthAdjust="spacingAndGlyphs">Bleached state</text>
<text x="506.5" y="639.0" font-size="17" fill="#000" font-weight="bold" textLength="143.1" lengthAdjust="spacingAndGlyphs">Wavelength:633 nm</text>
<path d="M598.40,598.38 L599.06,598.71 L599.73,598.99 L600.39,599.23 L601.06,599.44 L601.72,599.61 L602.38,599.76 L603.05,599.88 L603.71,599.98 L604.38,600.07 L605.04,600.15 L605.70,600.21 L606.37,600.26 L607.03,600.31 L607.70,600.35 L608.36,600.38 L609.02,600.41 L609.69,600.43 L610.35,600.45 L611.02,600.56 L611.68,572.77 L612.34,555.91 L613.01,545.69 L613.67,539.49 L614.34,535.73 L615.00,533.45 L615.66,532.06 L616.33,531.22 L616.99,530.72 L617.66,530.41 L618.32,530.22 L618.98,530.11 L619.65,530.04 L620.31,530.00 L620.98,529.97 L621.64,529.95 L622.30,529.95 L622.97,529.94 L623.63,529.94 L624.30,529.93 L624.96,529.93 L625.62,529.93 L626.29,529.93 L626.95,529.93 L627.62,529.93 L628.28,529.93 L628.94,529.93 L629.61,529.93 L630.27,529.93 L630.94,529.93 L631.60,529.93 L632.26,529.93 L632.93,529.93 L633.59,529.93 L634.26,529.93 L634.92,529.93 L635.58,529.93 L636.25,529.93 L636.91,544.29 L637.58,555.73 L638.24,564.84 L638.90,572.10 L639.57,577.89 L640.23,582.50 L640.90,586.17 L641.56,589.09 L642.22,591.43 L642.89,593.28 L643.55,594.76 L644.22,595.94 L644.88,596.88 L645.54,597.63 L646.21,598.22 L646.87,598.70 L647.54,599.08 L648.20,599.38 L648.86,599.62 L649.53,599.81 L650.19,599.96 L650.86,600.08 L651.52,600.18 L652.18,600.26 L652.85,600.32 L653.51,600.37 L654.18,600.41 L654.84,600.44 L655.50,600.46 L656.17,600.48 L656.83,600.50 L657.50,600.51 L658.16,600.52 L658.82,600.53 L659.49,600.53 L660.15,600.54 L660.82,600.54 L661.48,600.55 L662.14,600.55 L662.81,600.56 L663.47,572.77 L664.14,555.91 L664.80,545.69 L665.46,539.49 L666.13,535.73 L666.79,533.45 L667.46,532.06 L668.12,531.22 L668.78,530.72 L669.45,530.41 L670.11,530.22 L670.78,530.11 L671.44,530.04 L672.10,530.00 L672.77,529.97 L673.43,529.95 L674.10,529.95 L674.76,529.94 L675.42,529.94 L676.09,529.93 L676.75,529.93 L677.42,529.93 L678.08,529.93 L678.74,529.93 L679.41,529.93 L680.07,529.93 L680.74,529.93 L681.40,529.93 L682.06,529.93 L682.73,529.93 L683.39,529.93 L684.06,529.93 L684.72,529.93 L685.38,529.93 L686.05,529.93 L686.71,529.93 L687.38,529.93 L688.04,529.93 L688.70,529.93 L689.37,544.29 L690.03,555.73 L690.70,564.84 L691.36,572.10 L692.02,577.89 L692.69,582.50 L693.35,586.17 L694.02,589.09 L694.68,591.43 L695.34,593.28 L696.01,594.76 L696.67,595.94 L697.34,596.88 L698.00,597.63 L698.66,598.22 L699.33,598.70 L699.99,599.08 L700.66,599.38 L701.32,599.62 L701.98,599.81 L702.65,599.96 L703.31,600.08 L703.98,600.18 L704.64,600.26 L705.30,600.32 L705.97,600.37 L706.63,600.41 L707.30,600.44 L707.96,600.46 L708.62,600.48 L709.29,600.50 L709.95,600.51 L710.62,600.52 L711.28,600.53 L711.94,600.53 L712.61,600.54 L713.27,600.54 L713.94,600.55 L714.60,600.55 L715.26,600.56 L715.93,572.77 L716.59,555.91 L717.26,545.69 L717.92,539.49 L718.58,535.73 L719.25,533.45 L719.91,532.06 L720.58,531.22 L721.24,530.72 L721.90,530.41 L722.57,530.22 L723.23,530.11 L723.90,530.04 L724.56,530.00 L725.22,529.97 L725.89,529.95 L726.55,529.95 L727.22,529.94 L727.88,529.94 L728.54,529.93 L729.21,529.93 L729.87,529.93 L730.54,529.93 L731.20,529.93" fill="none" stroke="#1E8A86" stroke-width="1.3"/>
<path d="M598.40,598.81 L599.06,599.15 L599.73,599.43 L600.39,599.67 L601.06,599.87 L601.72,600.05 L602.38,600.19 L603.05,600.32 L603.71,600.42 L604.38,600.51 L605.04,600.58 L605.70,600.65 L606.37,600.70 L607.03,600.75 L607.70,600.78 L608.36,600.82 L609.02,600.84 L609.69,600.87 L610.35,600.89 L611.02,600.90 L611.68,601.00 L612.34,571.60 L613.01,553.77 L613.67,542.96 L614.34,536.40 L615.00,532.42 L615.66,530.01 L616.33,528.55 L616.99,527.66 L617.66,527.12 L618.32,526.79 L618.98,526.60 L619.65,526.48 L620.31,526.40 L620.98,526.36 L621.64,526.33 L622.30,526.32 L622.97,526.31 L623.63,526.30 L624.30,526.30 L624.96,526.29 L625.62,526.29 L626.29,526.29 L626.95,526.29 L627.62,526.29 L628.28,526.29 L628.94,526.29 L629.61,526.29 L630.27,526.29 L630.94,526.29 L631.60,526.29 L632.26,526.29 L632.93,526.29 L633.59,526.29 L634.26,526.29 L634.92,526.29 L635.58,526.29 L636.25,526.29 L636.91,526.29 L637.58,537.10 L638.24,546.34 L638.90,554.25 L639.57,561.01 L640.23,566.79 L640.90,571.74 L641.56,575.97 L642.22,579.59 L642.89,582.69 L643.55,585.34 L644.22,587.60 L644.88,589.54 L645.54,591.20 L646.21,592.61 L646.87,593.83 L647.54,594.86 L648.20,595.75 L648.86,596.51 L649.53,597.16 L650.19,597.71 L650.86,598.19 L651.52,598.59 L652.18,598.94 L652.85,599.24 L653.51,599.49 L654.18,599.71 L654.84,599.90 L655.50,600.06 L656.17,600.19 L656.83,600.31 L657.50,600.41 L658.16,600.49 L658.82,600.57 L659.49,600.63 L660.15,600.68 L660.82,600.73 L661.48,600.77 L662.14,600.80 L662.81,600.83 L663.47,601.00 L664.14,571.60 L664.80,553.77 L665.46,542.96 L666.13,536.40 L666.79,532.42 L667.46,530.01 L668.12,528.55 L668.78,527.66 L669.45,527.12 L670.11,526.79 L670.78,526.60 L671.44,526.48 L672.10,526.40 L672.77,526.36 L673.43,526.33 L674.10,526.32 L674.76,526.31 L675.42,526.30 L676.09,526.30 L676.75,526.29 L677.42,526.29 L678.08,526.29 L678.74,526.29 L679.41,526.29 L680.07,526.29 L680.74,526.29 L681.40,526.29 L682.06,526.29 L682.73,526.29 L683.39,526.29 L684.06,526.29 L684.72,526.29 L685.38,526.29 L686.05,526.29 L686.71,526.29 L687.38,526.29 L688.04,526.29 L688.70,526.29 L689.37,526.29 L690.03,537.10 L690.70,546.34 L691.36,554.25 L692.02,561.01 L692.69,566.79 L693.35,571.74 L694.02,575.97 L694.68,579.59 L695.34,582.69 L696.01,585.34 L696.67,587.60 L697.34,589.54 L698.00,591.20 L698.66,592.61 L699.33,593.83 L699.99,594.86 L700.66,595.75 L701.32,596.51 L701.98,597.16 L702.65,597.71 L703.31,598.19 L703.98,598.59 L704.64,598.94 L705.30,599.24 L705.97,599.49 L706.63,599.71 L707.30,599.90 L707.96,600.06 L708.62,600.19 L709.29,600.31 L709.95,600.41 L710.62,600.49 L711.28,600.57 L711.94,600.63 L712.61,600.68 L713.27,600.73 L713.94,600.77 L714.60,600.80 L715.26,600.83 L715.93,601.00 L716.59,571.60 L717.26,553.77 L717.92,542.96 L718.58,536.40 L719.25,532.42 L719.91,530.01 L720.58,528.55 L721.24,527.66 L721.90,527.12 L722.57,526.79 L723.23,526.60 L723.90,526.48 L724.56,526.40 L725.22,526.36 L725.89,526.33 L726.55,526.32 L727.22,526.31 L727.88,526.30 L728.54,526.30 L729.21,526.29 L729.87,526.29 L730.54,526.29 L731.20,526.29" fill="none" stroke="#2DB7AE" stroke-width="1.3"/>
<path d="M598.40,597.65 L599.06,597.98 L599.73,598.27 L600.39,598.51 L601.06,598.71 L601.72,598.88 L602.38,599.03 L603.05,599.15 L603.71,599.26 L604.38,599.34 L605.04,599.42 L605.70,599.48 L606.37,599.54 L607.03,599.58 L607.70,599.62 L608.36,599.65 L609.02,599.68 L609.69,599.70 L610.35,599.72 L611.02,599.74 L611.68,599.75 L612.34,599.83 L613.01,571.47 L613.67,554.27 L614.34,543.83 L615.00,537.50 L615.66,533.66 L616.33,531.34 L616.99,529.92 L617.66,529.07 L618.32,528.55 L618.98,528.23 L619.65,528.04 L620.31,527.93 L620.98,527.86 L621.64,527.81 L622.30,527.79 L622.97,527.77 L623.63,527.76 L624.30,527.76 L624.96,527.75 L625.62,527.75 L626.29,527.75 L626.95,527.75 L627.62,527.75 L628.28,527.75 L628.94,527.75 L629.61,527.75 L630.27,527.75 L630.94,527.75 L631.60,527.75 L632.26,527.75 L632.93,527.75 L633.59,527.75 L634.26,527.75 L634.92,527.75 L635.58,527.75 L636.25,527.75 L636.91,527.75 L637.58,527.75 L638.24,536.22 L638.90,543.69 L639.57,550.29 L640.23,556.11 L640.90,561.25 L641.56,565.78 L642.22,569.78 L642.89,573.31 L643.55,576.43 L644.22,579.18 L644.88,581.61 L645.54,583.75 L646.21,585.64 L646.87,587.30 L647.54,588.78 L648.20,590.08 L648.86,591.22 L649.53,592.23 L650.19,593.13 L650.86,593.91 L651.52,594.61 L652.18,595.22 L652.85,595.76 L653.51,596.24 L654.18,596.66 L654.84,597.04 L655.50,597.36 L656.17,597.65 L656.83,597.91 L657.50,598.14 L658.16,598.34 L658.82,598.51 L659.49,598.67 L660.15,598.80 L660.82,598.92 L661.48,599.03 L662.14,599.12 L662.81,599.21 L663.47,599.28 L664.14,599.83 L664.80,571.47 L665.46,554.27 L666.13,543.83 L666.79,537.50 L667.46,533.66 L668.12,531.34 L668.78,529.92 L669.45,529.07 L670.11,528.55 L670.78,528.23 L671.44,528.04 L672.10,527.93 L672.77,527.86 L673.43,527.81 L674.10,527.79 L674.76,527.77 L675.42,527.76 L676.09,527.76 L676.75,527.75 L677.42,527.75 L678.08,527.75 L678.74,527.75 L679.41,527.75 L680.07,527.75 L680.74,527.75 L681.40,527.75 L682.06,527.75 L682.73,527.75 L683.39,527.75 L684.06,527.75 L684.72,527.75 L685.38,527.75 L686.05,527.75 L686.71,527.75 L687.38,527.75 L688.04,527.75 L688.70,527.75 L689.37,527.75 L690.03,527.75 L690.70,536.22 L691.36,543.69 L692.02,550.29 L692.69,556.11 L693.35,561.25 L694.02,565.78 L694.68,569.78 L695.34,573.31 L696.01,576.43 L696.67,579.18 L697.34,581.61 L698.00,583.75 L698.66,585.64 L699.33,587.30 L699.99,588.78 L700.66,590.08 L701.32,591.22 L701.98,592.23 L702.65,593.13 L703.31,593.91 L703.98,594.61 L704.64,595.22 L705.30,595.76 L705.97,596.24 L706.63,596.66 L707.30,597.04 L707.96,597.36 L708.62,597.65 L709.29,597.91 L709.95,598.14 L710.62,598.34 L711.28,598.51 L711.94,598.67 L712.61,598.80 L713.27,598.92 L713.94,599.03 L714.60,599.12 L715.26,599.21 L715.93,599.28 L716.59,599.83 L717.26,571.47 L717.92,554.27 L718.58,543.83 L719.25,537.50 L719.91,533.66 L720.58,531.34 L721.24,529.92 L721.90,529.07 L722.57,528.55 L723.23,528.23 L723.90,528.04 L724.56,527.93 L725.22,527.86 L725.89,527.81 L726.55,527.79 L727.22,527.77 L727.88,527.76 L728.54,527.76 L729.21,527.75 L729.87,527.75 L730.54,527.75 L731.20,527.75" fill="none" stroke="#52D3CB" stroke-width="1.3"/>
<rect x="598.4" y="487.7" width="132.80" height="116.50" fill="none" stroke="#2A2A2A" stroke-width="1.3"/>
<line x1="598.40" y1="604.20" x2="598.40" y2="602.70" stroke="#000" stroke-width="1"/>
<line x1="624.96" y1="604.20" x2="624.96" y2="602.70" stroke="#000" stroke-width="1"/>
<line x1="651.52" y1="604.20" x2="651.52" y2="602.70" stroke="#000" stroke-width="1"/>
<line x1="678.08" y1="604.20" x2="678.08" y2="602.70" stroke="#000" stroke-width="1"/>
<line x1="704.64" y1="604.20" x2="704.64" y2="602.70" stroke="#000" stroke-width="1"/>
<line x1="731.20" y1="604.20" x2="731.20" y2="602.70" stroke="#000" stroke-width="1"/>
<line x1="598.40" y1="604.20" x2="599.90" y2="604.20" stroke="#000" stroke-width="1"/>
<line x1="598.40" y1="575.08" x2="599.90" y2="575.08" stroke="#000" stroke-width="1"/>
<line x1="598.40" y1="545.95" x2="599.90" y2="545.95" stroke="#000" stroke-width="1"/>
<line x1="598.40" y1="516.83" x2="599.90" y2="516.83" stroke="#000" stroke-width="1"/>
<line x1="598.40" y1="487.70" x2="599.90" y2="487.70" stroke="#000" stroke-width="1"/>
<text x="597.0" y="607.2" font-size="8.6" fill="#1a1a1a" text-anchor="end" font-weight="bold" textLength="4.4" lengthAdjust="spacingAndGlyphs">0</text>
<text x="597.0" y="578.1" font-size="8.6" fill="#1a1a1a" text-anchor="end" font-weight="bold" textLength="8.9" lengthAdjust="spacingAndGlyphs">20</text>
<text x="597.0" y="549.0" font-size="8.6" fill="#1a1a1a" text-anchor="end" font-weight="bold" textLength="8.9" lengthAdjust="spacingAndGlyphs">40</text>
<text x="597.0" y="519.8" font-size="8.6" fill="#1a1a1a" text-anchor="end" font-weight="bold" textLength="8.9" lengthAdjust="spacingAndGlyphs">60</text>
<text x="597.0" y="490.7" font-size="8.6" fill="#1a1a1a" text-anchor="end" font-weight="bold" textLength="8.9" lengthAdjust="spacingAndGlyphs">80</text>
<text x="598.4" y="614.6" font-size="8.8" fill="#1a1a1a" text-anchor="middle" font-weight="bold" textLength="4.7" lengthAdjust="spacingAndGlyphs">0</text>
<text x="625.0" y="614.6" font-size="8.8" fill="#1a1a1a" text-anchor="middle" font-weight="bold" textLength="9.3" lengthAdjust="spacingAndGlyphs">20</text>
<text x="651.5" y="614.6" font-size="8.8" fill="#1a1a1a" text-anchor="middle" font-weight="bold" textLength="9.3" lengthAdjust="spacingAndGlyphs">40</text>
<text x="678.1" y="614.6" font-size="8.8" fill="#1a1a1a" text-anchor="middle" font-weight="bold" textLength="9.3" lengthAdjust="spacingAndGlyphs">60</text>
<text x="704.6" y="614.6" font-size="8.8" fill="#1a1a1a" text-anchor="middle" font-weight="bold" textLength="9.3" lengthAdjust="spacingAndGlyphs">80</text>
<text x="731.2" y="614.6" font-size="8.8" fill="#1a1a1a" text-anchor="middle" font-weight="bold" textLength="14.0" lengthAdjust="spacingAndGlyphs">100</text>
<text x="648.5" y="622.2" font-size="8.6" fill="#1a1a1a" font-weight="bold" textLength="33.7" lengthAdjust="spacingAndGlyphs">Time (s)</text>
<text transform="translate(585.0,588.6) rotate(-90)" x="0" y="0" font-size="8.2" fill="#1a1a1a" font-weight="bold" textLength="84.0" lengthAdjust="spacingAndGlyphs">Transmittance (%)</text>
<line x1="692.4" y1="495.4" x2="703.6" y2="495.4" stroke="#1E8A86" stroke-width="1.4"/>
<text x="705.5" y="497.7" font-size="6.4" fill="#222" font-weight="bold" textLength="10.7" lengthAdjust="spacingAndGlyphs">1 th</text>
<line x1="692.4" y1="503.8" x2="703.6" y2="503.8" stroke="#2DB7AE" stroke-width="1.4"/>
<text x="705.5" y="506.1" font-size="6.4" fill="#222" font-weight="bold" textLength="17.3" lengthAdjust="spacingAndGlyphs">500 th</text>
<line x1="692.4" y1="512.2" x2="703.6" y2="512.2" stroke="#52D3CB" stroke-width="1.4"/>
<text x="705.5" y="514.5" font-size="6.4" fill="#222" font-weight="bold" textLength="20.7" lengthAdjust="spacingAndGlyphs">1000 th</text>
<circle cx="933.6" cy="642.3" r="4.4" fill="url(#gTealF)"/>
<circle cx="1046.6" cy="565.2" r="4.4" fill="url(#gTealF)"/>
<circle cx="1096.7" cy="520.3" r="4.4" fill="url(#gTealF)"/>
<circle cx="1125.3" cy="495.8" r="4.4" fill="url(#gTealF)"/>
<circle cx="1145.4" cy="481.3" r="4.4" fill="url(#gTealF)"/>
<circle cx="1160.6" cy="469.9" r="4.4" fill="url(#gTealF)"/>
<circle cx="1171.3" cy="462.3" r="4.4" fill="url(#gTealF)"/>
<circle cx="1179.9" cy="454.7" r="4.4" fill="url(#gTealF)"/>
<circle cx="1184.7" cy="451.2" r="4.4" fill="url(#gTealF)"/>
<circle cx="1189.2" cy="447.4" r="4.4" fill="url(#gTealF)"/>
<line x1="933.0" y1="645.8" x2="1190.5" y2="448.2" stroke="#F58D2E" stroke-width="2.4"/>
<rect x="913.00" y="392.10" width="328.00" height="267.70" fill="none" stroke="#000" stroke-width="2.2"/>
<line x1="913.00" y1="659.80" x2="913.00" y2="657.30" stroke="#000" stroke-width="1.8"/>
<line x1="1022.33" y1="659.80" x2="1022.33" y2="657.30" stroke="#000" stroke-width="1.8"/>
<line x1="1131.67" y1="659.80" x2="1131.67" y2="657.30" stroke="#000" stroke-width="1.8"/>
<line x1="1241.00" y1="659.80" x2="1241.00" y2="657.30" stroke="#000" stroke-width="1.8"/>
<line x1="913.00" y1="659.80" x2="915.50" y2="659.80" stroke="#000" stroke-width="1.8"/>
<line x1="913.00" y1="606.26" x2="915.50" y2="606.26" stroke="#000" stroke-width="1.8"/>
<line x1="913.00" y1="552.72" x2="915.50" y2="552.72" stroke="#000" stroke-width="1.8"/>
<line x1="913.00" y1="499.18" x2="915.50" y2="499.18" stroke="#000" stroke-width="1.8"/>
<line x1="913.00" y1="445.64" x2="915.50" y2="445.64" stroke="#000" stroke-width="1.8"/>
<line x1="913.00" y1="392.10" x2="915.50" y2="392.10" stroke="#000" stroke-width="1.8"/>
<text x="908.8" y="666.2" font-size="21.69" fill="#000" text-anchor="end" font-weight="bold" textLength="28.5" lengthAdjust="spacingAndGlyphs">0.2</text>
<text x="908.8" y="612.7" font-size="21.69" fill="#000" text-anchor="end" font-weight="bold" textLength="28.5" lengthAdjust="spacingAndGlyphs">0.4</text>
<text x="908.8" y="559.1" font-size="21.69" fill="#000" text-anchor="end" font-weight="bold" textLength="28.5" lengthAdjust="spacingAndGlyphs">0.6</text>
<text x="908.8" y="505.6" font-size="21.69" fill="#000" text-anchor="end" font-weight="bold" textLength="28.5" lengthAdjust="spacingAndGlyphs">0.8</text>
<text x="908.8" y="452.0" font-size="21.69" fill="#000" text-anchor="end" font-weight="bold" textLength="28.5" lengthAdjust="spacingAndGlyphs">1.0</text>
<text x="908.8" y="398.5" font-size="21.69" fill="#000" text-anchor="end" font-weight="bold" textLength="28.5" lengthAdjust="spacingAndGlyphs">1.2</text>
<text x="913.0" y="683.9" font-size="21.69" fill="#000" text-anchor="middle" font-weight="bold" textLength="51.3" lengthAdjust="spacingAndGlyphs">0.004</text>
<text x="1022.3" y="683.9" font-size="21.69" fill="#000" text-anchor="middle" font-weight="bold" textLength="51.3" lengthAdjust="spacingAndGlyphs">0.006</text>
<text x="1131.7" y="683.9" font-size="21.69" fill="#000" text-anchor="middle" font-weight="bold" textLength="51.3" lengthAdjust="spacingAndGlyphs">0.008</text>
<text x="1241.0" y="683.9" font-size="21.69" fill="#000" text-anchor="middle" font-weight="bold" textLength="51.3" lengthAdjust="spacingAndGlyphs">0.010</text>
<text x="1021.2" y="708.4" font-size="22.4" fill="#000" font-weight="bold" textLength="86.0" lengthAdjust="spacingAndGlyphs">Q (C cm</text>
<text x="1107.6" y="702.4" font-size="18.5" fill="#000" font-weight="bold" textLength="17.2" lengthAdjust="spacingAndGlyphs">-2</text>
<text x="1124.6" y="708.4" font-size="22.4" fill="#000" font-weight="bold">)</text>
<text transform="translate(874.9,550.3) rotate(-90)" x="0" y="0" font-size="22.4" fill="#000" font-weight="bold" textLength="46.6" lengthAdjust="spacingAndGlyphs">&#916;OD</text>
<text x="943.6" y="490.8" font-family="&quot;Liberation Serif&quot;, serif" font-size="23" fill="#2A9D9E">&#951;</text>
<text x="955.6" y="490.8" font-size="21.8" fill="#2A9D9E" font-weight="bold" textLength="112.6" lengthAdjust="spacingAndGlyphs">=157.44 cm</text>
<text x="1069.2" y="485.2" font-size="18.5" fill="#2A9D9E" font-weight="bold">2</text>
<text x="1086.8" y="490.8" font-size="21.8" fill="#2A9D9E" font-weight="bold">C</text>
<text x="1101.4" y="485.2" font-size="18.5" fill="#2A9D9E" font-weight="bold" textLength="15.0" lengthAdjust="spacingAndGlyphs">-1</text>
<path d="M120.52,879.86 L121.72,879.68 L122.91,879.50 L124.11,879.31 L125.31,879.13 L126.50,878.95 L127.70,878.77 L128.89,878.59 L130.09,878.41 L131.29,878.22 L132.48,878.04 L133.68,877.86 L134.87,877.67 L136.07,877.49 L137.27,877.31 L138.46,877.12 L139.66,876.94 L140.85,876.75 L142.05,876.57 L143.25,876.38 L144.44,876.20 L145.64,876.01 L146.83,875.82 L148.03,875.64 L149.23,875.45 L150.42,875.26 L151.62,875.07 L152.82,874.88 L154.01,874.69 L155.21,874.50 L156.40,874.31 L157.60,874.12 L158.80,873.93 L159.99,873.74 L161.19,873.54 L162.38,873.35 L163.58,873.16 L164.78,872.96 L165.97,872.76 L167.17,872.57 L168.36,872.37 L169.56,872.17 L170.76,871.97 L171.95,871.77 L173.15,871.57 L174.34,871.37 L175.54,871.16 L176.74,870.96 L177.93,870.75 L179.13,870.55 L180.32,870.34 L181.52,870.13 L182.72,869.92 L183.91,869.70 L185.11,869.49 L186.31,869.28 L187.50,869.06 L188.70,868.84 L189.89,868.62 L191.09,868.40 L192.29,868.17 L193.48,867.95 L194.68,867.72 L195.87,867.49 L197.07,867.26 L198.27,867.02 L199.46,866.79 L200.66,866.55 L201.85,866.31 L203.05,866.06 L204.25,865.81 L205.44,865.56 L206.64,865.31 L207.83,865.06 L209.03,864.80 L210.23,864.53 L211.42,864.27 L212.62,864.00 L213.81,863.72 L215.01,863.45 L216.21,863.17 L217.40,862.88 L218.60,862.59 L219.80,862.30 L220.99,862.00 L222.19,861.69 L223.38,861.38 L224.58,861.07 L225.78,860.75 L226.97,860.42 L228.17,860.09 L229.36,859.75 L230.56,859.40 L231.76,859.05 L232.95,858.69 L234.15,858.33 L235.34,857.95 L236.54,857.57 L237.74,857.18 L238.93,856.78 L240.13,856.37 L241.32,855.96 L242.52,855.53 L243.72,855.09 L244.91,854.64 L246.11,854.19 L247.30,853.72 L248.50,853.24 L249.70,852.74 L250.89,852.24 L252.09,851.72 L253.29,851.18 L254.48,850.64 L255.68,850.07 L256.87,849.50 L258.07,848.90 L259.27,848.29 L260.46,847.66 L261.66,847.02 L262.85,846.35 L264.05,845.67 L265.25,844.97 L266.44,844.24 L267.64,843.50 L268.83,842.73 L270.03,841.93 L271.23,841.12 L272.42,840.27 L273.62,839.41 L274.81,838.51 L276.01,837.58 L277.21,836.63 L278.40,835.65 L279.60,834.63 L280.79,833.58 L281.99,832.50 L283.19,831.38 L284.38,830.22 L285.58,829.03 L286.78,827.80 L287.97,826.52 L289.17,825.21 L290.36,823.85 L291.56,822.45 L292.76,820.99 L293.95,819.50 L295.15,817.95 L296.34,816.35 L297.54,814.70 L298.74,813.00 L299.93,811.24 L301.13,809.43 L302.32,807.56 L303.52,805.63 L304.72,803.65 L305.91,801.62 L307.11,799.53 L308.30,797.39 L309.50,795.21 L310.70,792.99 L311.89,790.74 L313.09,788.48 L314.28,786.23 L315.48,784.02 L316.68,781.90 L317.87,779.94 L319.07,778.22 L320.27,776.86 L321.46,775.97 L322.66,775.67 L323.85,775.96 L325.05,776.87 L326.25,778.40 L327.44,780.53 L328.64,783.25 L329.83,786.49 L331.03,790.22 L332.23,794.34 L333.42,798.80 L334.62,803.49 L335.81,808.34 L337.01,813.27 L338.21,818.19 L339.40,823.04 L340.60,827.75 L341.79,832.26 L342.99,836.54 L344.19,840.54 L345.38,844.24 L346.58,847.64 L347.77,850.71 L348.97,853.48 L350.17,855.94 L351.36,858.10 L352.56,860.00 L353.76,861.64 L354.95,863.05 L356.15,864.25 L357.34,865.27 L358.54,866.13 L359.74,866.85 L360.93,867.44 L362.13,867.94 L363.32,868.35 L364.52,868.69 L365.72,868.96 L366.91,869.19 L368.11,869.38 L369.30,869.53 L370.50,869.66 L371.70,869.77 L372.89,869.86 L374.09,869.94 L375.28,870.00 L376.48,870.06 L377.68,870.11 L378.87,870.15 L380.07,870.19 L381.26,870.22 L382.46,870.25 L383.66,870.28 L384.85,870.30 L386.05,870.32 L387.25,870.34 L388.44,870.36 L389.64,870.36 L390.83,870.36 L392.03,870.36 L393.23,870.36 L394.42,870.35 L395.62,870.35 L396.81,870.34 L398.01,870.33 L399.21,870.33 L400.40,870.32 L401.60,870.31 L402.79,870.30 L403.99,870.29 L405.19,870.28 L406.38,870.27 L407.58,870.25 L407.58,870.26 L406.38,871.68 L405.19,872.84 L403.99,873.80 L402.79,874.58 L401.60,875.22 L400.40,875.74 L399.21,876.17 L398.01,876.52 L396.81,876.81 L395.62,877.04 L394.42,877.23 L393.23,877.39 L392.03,877.52 L390.83,877.63 L389.64,877.72 L388.44,877.79 L387.25,877.85 L386.05,877.90 L384.85,877.94 L383.66,877.97 L382.46,878.00 L381.26,878.02 L380.07,878.04 L378.87,878.06 L377.68,878.07 L376.48,878.08 L375.28,878.09 L374.09,878.10 L372.89,878.11 L371.70,878.12 L370.50,878.12 L369.30,878.13 L368.11,878.13 L366.91,878.14 L365.72,878.15 L364.52,878.15 L363.32,878.16 L362.13,878.16 L360.93,878.17 L359.74,878.18 L358.54,878.18 L357.34,878.19 L356.15,878.20 L354.95,878.20 L353.76,878.21 L352.56,878.22 L351.36,878.23 L350.17,878.24 L348.97,878.25 L347.77,878.26 L346.58,878.27 L345.38,878.29 L344.19,878.30 L342.99,878.31 L341.79,878.33 L340.60,878.34 L339.40,878.36 L338.21,878.38 L337.01,878.40 L335.81,878.42 L334.62,878.44 L333.42,878.46 L332.23,878.48 L331.03,878.51 L329.83,878.54 L328.64,878.56 L327.44,878.60 L326.25,878.63 L325.05,878.66 L323.85,878.70 L322.66,878.74 L321.46,878.78 L320.27,878.82 L319.07,878.87 L317.87,878.91 L316.68,878.97 L315.48,879.02 L314.28,879.08 L313.09,879.14 L311.89,879.20 L310.70,879.27 L309.50,879.34 L308.30,879.42 L307.11,879.50 L305.91,879.58 L304.72,879.67 L303.52,879.77 L302.32,879.87 L301.13,879.97 L299.93,880.08 L298.74,880.20 L297.54,880.32 L296.34,880.45 L295.15,880.59 L293.95,880.74 L292.76,880.89 L291.56,881.05 L290.36,881.22 L289.17,881.40 L287.97,881.59 L286.78,881.79 L285.58,881.99 L284.38,882.21 L283.19,882.44 L281.99,882.69 L280.80,882.94 L279.60,883.21 L278.40,883.49 L277.21,883.78 L276.01,884.09 L274.81,884.42 L273.62,884.76 L272.42,885.12 L271.23,885.49 L270.03,885.88 L268.83,886.29 L267.64,886.72 L266.44,887.17 L265.25,887.65 L264.05,888.14 L262.85,888.66 L261.66,889.20 L260.46,889.76 L259.27,890.35 L258.07,890.96 L256.87,891.61 L255.68,892.28 L254.48,892.98 L253.29,893.70 L252.09,894.46 L250.89,895.26 L249.70,896.08 L248.50,896.94 L247.30,897.83 L246.11,898.76 L244.91,899.73 L243.72,900.73 L242.52,901.77 L241.32,902.85 L240.13,903.97 L238.93,905.14 L237.74,906.34 L236.54,907.59 L235.34,908.89 L234.15,910.23 L232.95,911.61 L231.76,913.04 L230.56,914.52 L229.36,916.04 L228.17,917.62 L226.97,919.24 L225.78,920.91 L224.58,922.63 L223.38,924.40 L222.19,926.22 L220.99,928.09 L219.80,930.01 L218.60,931.97 L217.40,933.99 L216.21,936.05 L215.01,938.15 L213.81,940.30 L212.62,942.50 L211.42,944.73 L210.23,947.00 L209.03,949.31 L207.83,951.65 L206.64,954.02 L205.44,956.42 L204.25,958.84 L203.05,961.27 L201.85,963.71 L200.66,966.16 L199.46,968.61 L198.27,971.04 L197.07,973.45 L195.87,975.83 L194.68,978.16 L193.48,980.43 L192.29,982.62 L191.09,984.70 L189.89,986.64 L188.70,988.40 L187.50,989.88 L186.31,990.85 L185.11,990.65 L183.91,990.07 L182.72,989.10 L181.52,987.76 L180.32,986.07 L179.13,984.03 L177.93,981.67 L176.74,979.02 L175.54,976.10 L174.34,972.93 L173.15,969.56 L171.95,966.00 L170.76,962.29 L169.56,958.46 L168.36,954.55 L167.17,950.59 L165.97,946.59 L164.78,942.60 L163.58,938.64 L162.38,934.74 L161.19,930.91 L159.99,927.18 L158.80,923.57 L157.60,920.09 L156.40,916.75 L155.21,913.57 L154.01,910.56 L152.82,907.71 L151.62,905.04 L150.42,902.54 L149.23,900.21 L148.03,898.06 L146.84,896.07 L145.64,894.25 L144.44,892.59 L143.25,891.07 L142.05,889.71 L140.85,888.47 L139.66,887.37 L138.46,886.38 L137.27,885.51 L136.07,884.73 L134.87,884.05 L133.68,883.45 L132.48,882.93 L131.29,882.48 L130.09,882.10 L128.89,881.77 L127.70,881.48 L126.50,881.25 L125.31,881.05 L124.11,880.88 L122.91,880.75 L121.72,880.64 L120.52,880.55" fill="none" stroke="#9A4C10" stroke-width="2.4" stroke-linejoin="round"/>
<path d="M120.52,879.48 L121.72,879.34 L122.91,879.19 L124.11,879.05 L125.31,878.91 L126.50,878.77 L127.70,878.63 L128.89,878.48 L130.09,878.34 L131.29,878.20 L132.48,878.06 L133.68,877.91 L134.87,877.77 L136.07,877.63 L137.27,877.49 L138.46,877.34 L139.66,877.20 L140.85,877.06 L142.05,876.91 L143.25,876.77 L144.44,876.63 L145.64,876.48 L146.83,876.34 L148.03,876.20 L149.23,876.05 L150.42,875.91 L151.62,875.76 L152.82,875.62 L154.01,875.48 L155.21,875.33 L156.40,875.19 L157.60,875.04 L158.80,874.90 L159.99,874.75 L161.19,874.60 L162.38,874.46 L163.58,874.31 L164.78,874.17 L165.97,874.02 L167.17,873.87 L168.36,873.73 L169.56,873.58 L170.76,873.43 L171.95,873.28 L173.15,873.13 L174.34,872.98 L175.54,872.84 L176.74,872.69 L177.93,872.54 L179.13,872.39 L180.32,872.23 L181.52,872.08 L182.72,871.93 L183.91,871.78 L185.11,871.63 L186.31,871.47 L187.50,871.32 L188.70,871.16 L189.89,871.01 L191.09,870.85 L192.29,870.69 L193.48,870.54 L194.68,870.38 L195.87,870.22 L197.07,870.06 L198.27,869.90 L199.46,869.74 L200.66,869.57 L201.85,869.41 L203.05,869.24 L204.25,869.08 L205.44,868.91 L206.64,868.74 L207.83,868.57 L209.03,868.40 L210.23,868.23 L211.42,868.05 L212.62,867.88 L213.81,867.70 L215.01,867.52 L216.21,867.34 L217.40,867.15 L218.60,866.97 L219.80,866.78 L220.99,866.59 L222.19,866.40 L223.38,866.20 L224.58,866.01 L225.78,865.81 L226.97,865.61 L228.17,865.40 L229.36,865.19 L230.56,864.98 L231.76,864.77 L232.95,864.55 L234.15,864.33 L235.34,864.10 L236.54,863.87 L237.74,863.64 L238.93,863.40 L240.13,863.15 L241.32,862.91 L242.52,862.65 L243.72,862.40 L244.91,862.13 L246.11,861.86 L247.30,861.59 L248.50,861.31 L249.70,861.02 L250.89,860.72 L252.09,860.42 L253.29,860.11 L254.48,859.79 L255.68,859.47 L256.87,859.13 L258.07,858.79 L259.27,858.44 L260.46,858.07 L261.66,857.70 L262.85,857.31 L264.05,856.92 L265.25,856.51 L266.44,856.09 L267.64,855.66 L268.83,855.21 L270.03,854.75 L271.23,854.28 L272.42,853.79 L273.62,853.28 L274.81,852.76 L276.01,852.22 L277.21,851.66 L278.40,851.08 L279.60,850.49 L280.79,849.87 L281.99,849.23 L283.19,848.57 L284.38,847.88 L285.58,847.18 L286.78,846.44 L287.97,845.68 L289.17,844.90 L290.36,844.08 L291.56,843.24 L292.76,842.37 L293.95,841.47 L295.15,840.54 L296.34,839.58 L297.54,838.58 L298.74,837.56 L299.93,836.51 L301.13,835.43 L302.32,834.32 L303.52,833.19 L304.72,832.04 L305.91,830.89 L307.11,829.74 L308.30,828.62 L309.50,827.54 L310.70,826.55 L311.89,825.69 L313.09,825.03 L314.28,824.63 L315.48,824.53 L316.68,824.72 L317.87,825.18 L319.07,825.93 L320.27,826.97 L321.46,828.30 L322.66,829.89 L323.85,831.71 L325.05,833.74 L326.25,835.94 L327.44,838.26 L328.64,840.67 L329.83,843.12 L331.03,845.58 L332.23,848.00 L333.42,850.35 L334.62,852.62 L335.81,854.76 L337.01,856.78 L338.21,858.65 L339.40,860.36 L340.60,861.92 L341.79,863.33 L342.99,864.58 L344.19,865.69 L345.38,866.66 L346.58,867.50 L347.77,868.23 L348.97,868.86 L350.17,869.39 L351.36,869.85 L352.56,870.23 L353.76,870.55 L354.95,870.82 L356.15,871.04 L357.34,871.23 L358.54,871.39 L359.74,871.52 L360.93,871.63 L362.13,871.73 L363.32,871.81 L364.52,871.88 L365.72,871.93 L366.91,871.98 L368.11,872.03 L369.30,872.07 L370.50,872.10 L371.70,872.13 L372.89,872.16 L374.09,872.18 L375.28,872.21 L376.48,872.23 L377.68,872.25 L378.87,872.26 L380.07,872.28 L381.26,872.29 L382.46,872.30 L383.66,872.32 L384.85,872.33 L386.05,872.34 L387.25,872.35 L388.44,872.35 L389.64,872.35 L390.83,872.35 L392.03,872.34 L393.23,872.34 L394.42,872.33 L395.62,872.32 L396.81,872.32 L398.01,872.31 L399.21,872.30 L400.40,872.29 L401.60,872.28 L402.79,872.28 L403.99,872.27 L405.19,872.26 L406.38,872.25 L407.58,872.24 L407.58,872.24 L406.38,873.30 L405.19,874.17 L403.99,874.88 L402.79,875.46 L401.60,875.94 L400.40,876.33 L399.21,876.65 L398.01,876.91 L396.81,877.13 L395.62,877.30 L394.42,877.45 L393.23,877.57 L392.03,877.66 L390.83,877.74 L389.64,877.81 L388.44,877.86 L387.25,877.90 L386.05,877.94 L384.85,877.97 L383.66,878.00 L382.46,878.02 L381.26,878.03 L380.07,878.05 L378.87,878.06 L377.68,878.07 L376.48,878.08 L375.28,878.08 L374.09,878.09 L372.89,878.10 L371.70,878.10 L370.50,878.11 L369.30,878.11 L368.11,878.11 L366.91,878.12 L365.72,878.12 L364.52,878.13 L363.32,878.13 L362.13,878.13 L360.93,878.14 L359.74,878.14 L358.54,878.15 L357.34,878.15 L356.15,878.16 L354.95,878.16 L353.76,878.17 L352.56,878.17 L351.36,878.18 L350.17,878.18 L348.97,878.19 L347.77,878.20 L346.58,878.21 L345.38,878.22 L344.19,878.22 L342.99,878.23 L341.79,878.24 L340.60,878.25 L339.40,878.27 L338.21,878.28 L337.01,878.29 L335.81,878.31 L334.62,878.32 L333.42,878.34 L332.23,878.35 L331.03,878.37 L329.83,878.39 L328.64,878.41 L327.44,878.43 L326.25,878.45 L325.05,878.48 L323.85,878.51 L322.66,878.53 L321.46,878.56 L320.27,878.59 L319.07,878.63 L317.87,878.66 L316.68,878.70 L315.48,878.74 L314.28,878.78 L313.09,878.83 L311.89,878.87 L310.70,878.92 L309.50,878.98 L308.30,879.03 L307.11,879.10 L305.91,879.16 L304.72,879.23 L303.52,879.30 L302.32,879.37 L301.13,879.45 L299.93,879.54 L298.74,879.63 L297.54,879.72 L296.34,879.82 L295.15,879.93 L293.95,880.04 L292.76,880.16 L291.56,880.28 L290.36,880.42 L289.17,880.55 L287.97,880.70 L286.78,880.86 L285.58,881.02 L284.38,881.19 L283.19,881.37 L281.99,881.56 L280.80,881.76 L279.60,881.97 L278.40,882.20 L277.21,882.43 L276.01,882.68 L274.81,882.94 L273.62,883.21 L272.42,883.49 L271.23,883.79 L270.03,884.11 L268.83,884.44 L267.64,884.78 L266.44,885.15 L265.25,885.53 L264.05,885.92 L262.85,886.34 L261.66,886.78 L260.46,887.23 L259.27,887.71 L258.07,888.21 L256.87,888.73 L255.68,889.28 L254.48,889.85 L253.29,890.44 L252.09,891.06 L250.89,891.70 L249.70,892.37 L248.50,893.07 L247.30,893.80 L246.11,894.56 L244.91,895.34 L243.72,896.16 L242.52,897.01 L241.32,897.89 L240.13,898.80 L238.93,899.75 L237.74,900.73 L236.54,901.74 L235.34,902.79 L234.15,903.88 L232.95,905.00 L231.76,906.15 L230.56,907.34 L229.36,908.57 L228.17,909.84 L226.97,911.13 L225.78,912.47 L224.58,913.84 L223.38,915.24 L222.19,916.68 L220.99,918.15 L219.80,919.66 L218.60,921.19 L217.40,922.75 L216.21,924.34 L215.01,925.95 L213.81,927.59 L212.62,929.24 L211.42,930.91 L210.23,932.60 L209.03,934.28 L207.83,935.98 L206.64,937.66 L205.44,939.34 L204.25,941.00 L203.05,942.64 L201.85,944.23 L200.66,945.77 L199.46,947.25 L198.27,948.63 L197.07,949.89 L195.87,950.98 L194.68,951.78 L193.48,951.76 L192.29,951.36 L191.09,950.67 L189.89,949.69 L188.70,948.43 L187.50,946.91 L186.31,945.15 L185.11,943.16 L183.91,940.98 L182.72,938.62 L181.52,936.11 L180.32,933.48 L179.13,930.75 L177.93,927.96 L176.74,925.13 L175.54,922.27 L174.34,919.43 L173.15,916.61 L171.95,913.85 L170.76,911.15 L169.56,908.54 L168.36,906.03 L167.17,903.63 L165.97,901.35 L164.78,899.20 L163.58,897.17 L162.38,895.29 L161.19,893.54 L159.99,891.92 L158.80,890.44 L157.60,889.08 L156.40,887.85 L155.21,886.75 L154.01,885.75 L152.82,884.86 L151.62,884.07 L150.42,883.37 L149.23,882.76 L148.03,882.22 L146.84,881.76 L145.64,881.36 L144.44,881.01 L143.25,880.72 L142.05,880.47 L140.85,880.26 L139.66,880.09 L138.46,879.94 L137.27,879.83 L136.07,879.73 L134.87,879.66 L133.68,879.60 L132.48,879.55 L131.29,879.52 L130.09,879.50 L128.89,879.49 L127.70,879.48 L126.50,879.48 L125.31,879.48 L124.11,879.49 L122.91,879.50 L121.72,879.51 L120.52,879.53" fill="none" stroke="#F58D2E" stroke-width="2.4" stroke-linejoin="round"/>
<path d="M120.52,879.01 L121.72,878.90 L122.91,878.80 L124.11,878.69 L125.31,878.58 L126.50,878.48 L127.70,878.37 L128.89,878.26 L130.09,878.16 L131.29,878.05 L132.48,877.94 L133.68,877.83 L134.87,877.73 L136.07,877.62 L137.27,877.51 L138.46,877.40 L139.66,877.30 L140.85,877.19 L142.05,877.08 L143.25,876.97 L144.44,876.87 L145.64,876.76 L146.83,876.65 L148.03,876.54 L149.23,876.43 L150.42,876.32 L151.62,876.22 L152.82,876.11 L154.01,876.00 L155.21,875.89 L156.40,875.78 L157.60,875.67 L158.80,875.56 L159.99,875.45 L161.19,875.34 L162.38,875.23 L163.58,875.12 L164.78,875.01 L165.97,874.90 L167.17,874.79 L168.36,874.67 L169.56,874.56 L170.76,874.45 L171.95,874.34 L173.15,874.23 L174.34,874.11 L175.54,874.00 L176.74,873.89 L177.93,873.77 L179.13,873.66 L180.32,873.54 L181.52,873.43 L182.72,873.31 L183.91,873.19 L185.11,873.08 L186.31,872.96 L187.50,872.84 L188.70,872.72 L189.89,872.60 L191.09,872.48 L192.29,872.36 L193.48,872.24 L194.68,872.12 L195.87,872.00 L197.07,871.88 L198.27,871.75 L199.46,871.63 L200.66,871.50 L201.85,871.37 L203.05,871.24 L204.25,871.12 L205.44,870.98 L206.64,870.85 L207.83,870.72 L209.03,870.59 L210.23,870.45 L211.42,870.31 L212.62,870.18 L213.81,870.04 L215.01,869.90 L216.21,869.75 L217.40,869.61 L218.60,869.46 L219.80,869.31 L220.99,869.16 L222.19,869.01 L223.38,868.85 L224.58,868.70 L225.78,868.54 L226.97,868.38 L228.17,868.21 L229.36,868.04 L230.56,867.87 L231.76,867.70 L232.95,867.52 L234.15,867.34 L235.34,867.16 L236.54,866.97 L237.74,866.78 L238.93,866.58 L240.13,866.39 L241.32,866.18 L242.52,865.97 L243.72,865.76 L244.91,865.54 L246.11,865.32 L247.30,865.09 L248.50,864.85 L249.70,864.61 L250.89,864.37 L252.09,864.11 L253.29,863.85 L254.48,863.59 L255.68,863.31 L256.87,863.03 L258.07,862.74 L259.27,862.44 L260.46,862.13 L261.66,861.81 L262.85,861.48 L264.05,861.14 L265.25,860.80 L266.44,860.44 L267.64,860.06 L268.83,859.68 L270.03,859.28 L271.23,858.88 L272.42,858.45 L273.62,858.01 L274.81,857.56 L276.01,857.09 L277.21,856.61 L278.40,856.11 L279.60,855.59 L280.79,855.06 L281.99,854.50 L283.19,853.93 L284.38,853.33 L285.58,852.72 L286.78,852.08 L287.97,851.42 L289.17,850.74 L290.36,850.04 L291.56,849.32 L292.76,848.57 L293.95,847.81 L295.15,847.02 L296.34,846.21 L297.54,845.39 L298.74,844.56 L299.93,843.72 L301.13,842.88 L302.32,842.06 L303.52,841.28 L304.72,840.56 L305.91,839.94 L307.11,839.46 L308.30,839.17 L309.50,839.10 L310.70,839.23 L311.89,839.56 L313.09,840.11 L314.28,840.86 L315.48,841.81 L316.68,842.96 L317.87,844.27 L319.07,845.73 L320.27,847.30 L321.46,848.97 L322.66,850.70 L323.85,852.45 L325.05,854.21 L326.25,855.95 L327.44,857.63 L328.64,859.25 L329.83,860.79 L331.03,862.23 L332.23,863.56 L333.42,864.79 L334.62,865.90 L335.81,866.91 L337.01,867.80 L338.21,868.59 L339.40,869.28 L340.60,869.88 L341.79,870.40 L342.99,870.85 L344.19,871.23 L345.38,871.55 L346.58,871.82 L347.77,872.05 L348.97,872.24 L350.17,872.40 L351.36,872.54 L352.56,872.65 L353.76,872.74 L354.95,872.82 L356.15,872.89 L357.34,872.94 L358.54,872.99 L359.74,873.03 L360.93,873.07 L362.13,873.10 L363.32,873.12 L364.52,873.15 L365.72,873.17 L366.91,873.19 L368.11,873.21 L369.30,873.22 L370.50,873.24 L371.70,873.25 L372.89,873.26 L374.09,873.27 L375.28,873.28 L376.48,873.29 L377.68,873.30 L378.87,873.30 L380.07,873.31 L381.26,873.32 L382.46,873.32 L383.66,873.33 L384.85,873.33 L386.05,873.34 L387.25,873.34 L388.44,873.35 L389.64,873.34 L390.83,873.33 L392.03,873.33 L393.23,873.32 L394.42,873.32 L395.62,873.31 L396.81,873.30 L398.01,873.29 L399.21,873.29 L400.40,873.28 L401.60,873.27 L402.79,873.26 L403.99,873.25 L405.19,873.25 L406.38,873.24 L407.58,873.23 L407.58,873.23 L406.38,874.11 L405.19,874.83 L403.99,875.42 L402.79,875.91 L401.60,876.30 L400.40,876.63 L399.21,876.89 L398.01,877.11 L396.81,877.29 L395.62,877.44 L394.42,877.55 L393.23,877.65 L392.03,877.73 L390.83,877.80 L389.64,877.85 L388.44,877.90 L387.25,877.93 L386.05,877.96 L384.85,877.99 L383.66,878.01 L382.46,878.02 L381.26,878.04 L380.07,878.05 L378.87,878.06 L377.68,878.07 L376.48,878.07 L375.28,878.08 L374.09,878.08 L372.89,878.09 L371.70,878.09 L370.50,878.10 L369.30,878.10 L368.11,878.10 L366.91,878.11 L365.72,878.11 L364.52,878.11 L363.32,878.11 L362.13,878.12 L360.93,878.12 L359.74,878.12 L358.54,878.12 L357.34,878.13 L356.15,878.13 L354.95,878.13 L353.76,878.14 L352.56,878.14 L351.36,878.15 L350.17,878.15 L348.97,878.15 L347.77,878.16 L346.58,878.16 L345.38,878.17 L344.19,878.18 L342.99,878.18 L341.79,878.19 L340.60,878.20 L339.40,878.21 L338.21,878.21 L337.01,878.22 L335.81,878.23 L334.62,878.24 L333.42,878.26 L332.23,878.27 L331.03,878.28 L329.83,878.30 L328.64,878.31 L327.44,878.33 L326.25,878.34 L325.05,878.36 L323.85,878.38 L322.66,878.40 L321.46,878.43 L320.27,878.45 L319.07,878.47 L317.87,878.50 L316.68,878.53 L315.48,878.56 L314.28,878.59 L313.09,878.63 L311.89,878.67 L310.70,878.71 L309.50,878.75 L308.30,878.79 L307.11,878.84 L305.91,878.89 L304.72,878.95 L303.52,879.00 L302.32,879.06 L301.13,879.13 L299.93,879.20 L298.74,879.27 L297.54,879.35 L296.34,879.43 L295.15,879.52 L293.95,879.61 L292.76,879.71 L291.56,879.81 L290.36,879.93 L289.17,880.04 L287.97,880.17 L286.78,880.30 L285.58,880.43 L284.38,880.58 L283.19,880.74 L281.99,880.90 L280.80,881.07 L279.60,881.25 L278.40,881.45 L277.21,881.65 L276.01,881.86 L274.81,882.09 L273.62,882.32 L272.42,882.57 L271.23,882.84 L270.03,883.11 L268.83,883.40 L267.64,883.71 L266.44,884.03 L265.25,884.37 L264.05,884.72 L262.85,885.09 L261.66,885.48 L260.46,885.89 L259.27,886.32 L258.07,886.77 L256.87,887.24 L255.68,887.73 L254.48,888.24 L253.29,888.78 L252.09,889.34 L250.89,889.92 L249.70,890.53 L248.50,891.16 L247.30,891.82 L246.11,892.51 L244.91,893.22 L243.72,893.97 L242.52,894.74 L241.32,895.54 L240.13,896.37 L238.93,897.23 L237.74,898.12 L236.54,899.04 L235.34,899.99 L234.15,900.98 L232.95,901.99 L231.76,903.03 L230.56,904.11 L229.36,905.21 L228.17,906.34 L226.97,907.51 L225.78,908.69 L224.58,909.91 L223.38,911.15 L222.19,912.42 L220.99,913.71 L219.80,915.01 L218.60,916.34 L217.40,917.67 L216.21,919.02 L215.01,920.38 L213.81,921.73 L212.62,923.09 L211.42,924.43 L210.23,925.75 L209.03,927.05 L207.83,928.32 L206.64,929.53 L205.44,930.67 L204.25,931.73 L203.05,932.65 L201.85,933.37 L200.66,933.48 L199.46,933.18 L198.27,932.60 L197.07,931.76 L195.87,930.68 L194.68,929.36 L193.48,927.82 L192.29,926.09 L191.09,924.19 L189.89,922.15 L188.70,919.99 L187.50,917.74 L186.31,915.43 L185.11,913.07 L183.91,910.71 L182.72,908.36 L181.52,906.04 L180.32,903.78 L179.13,901.58 L177.93,899.48 L176.74,897.47 L175.54,895.57 L174.34,893.78 L173.15,892.11 L171.95,890.57 L170.76,889.15 L169.56,887.85 L168.36,886.67 L167.17,885.61 L165.97,884.66 L164.78,883.81 L163.58,883.06 L162.38,882.40 L161.19,881.83 L159.99,881.33 L158.80,880.90 L157.60,880.53 L156.40,880.21 L155.21,879.95 L154.01,879.73 L152.82,879.54 L151.62,879.39 L150.42,879.27 L149.23,879.17 L148.03,879.09 L146.84,879.03 L145.64,878.98 L144.44,878.94 L143.25,878.91 L142.05,878.90 L140.85,878.88 L139.66,878.88 L138.46,878.88 L137.27,878.88 L136.07,878.88 L134.87,878.89 L133.68,878.89 L132.48,878.90 L131.29,878.91 L130.09,878.93 L128.89,878.94 L127.70,878.95 L126.50,878.96 L125.31,878.98 L124.11,878.99 L122.91,879.00 L121.72,879.02 L120.52,879.03" fill="none" stroke="#A8E2D2" stroke-width="2.4" stroke-linejoin="round"/>
<path d="M120.52,878.08 L121.72,878.01 L122.91,877.94 L124.11,877.87 L125.31,877.80 L126.50,877.73 L127.70,877.66 L128.89,877.59 L130.09,877.51 L131.29,877.44 L132.48,877.37 L133.68,877.30 L134.87,877.23 L136.07,877.16 L137.27,877.09 L138.46,877.02 L139.66,876.94 L140.85,876.87 L142.05,876.80 L143.25,876.73 L144.44,876.66 L145.64,876.59 L146.83,876.52 L148.03,876.44 L149.23,876.37 L150.42,876.30 L151.62,876.23 L152.82,876.16 L154.01,876.08 L155.21,876.01 L156.40,875.94 L157.60,875.87 L158.80,875.79 L159.99,875.72 L161.19,875.65 L162.38,875.58 L163.58,875.50 L164.78,875.43 L165.97,875.36 L167.17,875.28 L168.36,875.21 L169.56,875.14 L170.76,875.06 L171.95,874.99 L173.15,874.91 L174.34,874.84 L175.54,874.76 L176.74,874.69 L177.93,874.61 L179.13,874.54 L180.32,874.46 L181.52,874.39 L182.72,874.31 L183.91,874.24 L185.11,874.16 L186.31,874.08 L187.50,874.00 L188.70,873.93 L189.89,873.85 L191.09,873.77 L192.29,873.69 L193.48,873.61 L194.68,873.53 L195.87,873.45 L197.07,873.37 L198.27,873.29 L199.46,873.20 L200.66,873.12 L201.85,873.04 L203.05,872.95 L204.25,872.87 L205.44,872.78 L206.64,872.70 L207.83,872.61 L209.03,872.52 L210.23,872.43 L211.42,872.34 L212.62,872.25 L213.81,872.16 L215.01,872.07 L216.21,871.97 L217.40,871.88 L218.60,871.78 L219.80,871.68 L220.99,871.58 L222.19,871.48 L223.38,871.37 L224.58,871.27 L225.78,871.16 L226.97,871.05 L228.17,870.94 L229.36,870.83 L230.56,870.72 L231.76,870.60 L232.95,870.48 L234.15,870.36 L235.34,870.23 L236.54,870.11 L237.74,869.98 L238.93,869.84 L240.13,869.71 L241.32,869.57 L242.52,869.42 L243.72,869.27 L244.91,869.12 L246.11,868.97 L247.30,868.81 L248.50,868.64 L249.70,868.47 L250.89,868.30 L252.09,868.12 L253.29,867.93 L254.48,867.74 L255.68,867.54 L256.87,867.34 L258.07,867.13 L259.27,866.91 L260.46,866.69 L261.66,866.45 L262.85,866.21 L264.05,865.96 L265.25,865.71 L266.44,865.44 L267.64,865.16 L268.83,864.88 L270.03,864.58 L271.23,864.27 L272.42,863.95 L273.62,863.62 L274.81,863.27 L276.01,862.92 L277.21,862.55 L278.40,862.16 L279.60,861.77 L280.79,861.35 L281.99,860.93 L283.19,860.49 L284.38,860.04 L285.58,859.57 L286.78,859.10 L287.97,858.61 L289.17,858.12 L290.36,857.62 L291.56,857.13 L292.76,856.65 L293.95,856.20 L295.15,855.79 L296.34,855.45 L297.54,855.20 L298.74,855.08 L299.93,855.09 L301.13,855.22 L302.32,855.48 L303.52,855.87 L304.72,856.40 L305.91,857.04 L307.11,857.81 L308.30,858.67 L309.50,859.61 L310.70,860.61 L311.89,861.65 L313.09,862.71 L314.28,863.77 L315.48,864.82 L316.68,865.84 L317.87,866.81 L319.07,867.72 L320.27,868.57 L321.46,869.35 L322.66,870.06 L323.85,870.70 L325.05,871.27 L326.25,871.77 L327.44,872.21 L328.64,872.59 L329.83,872.92 L331.03,873.20 L332.23,873.43 L333.42,873.63 L334.62,873.80 L335.81,873.94 L337.01,874.05 L338.21,874.15 L339.40,874.23 L340.60,874.30 L341.79,874.36 L342.99,874.41 L344.19,874.45 L345.38,874.48 L346.58,874.52 L347.77,874.54 L348.97,874.57 L350.17,874.59 L351.36,874.61 L352.56,874.62 L353.76,874.64 L354.95,874.65 L356.15,874.66 L357.34,874.67 L358.54,874.68 L359.74,874.69 L360.93,874.70 L362.13,874.71 L363.32,874.72 L364.52,874.72 L365.72,874.73 L366.91,874.74 L368.11,874.74 L369.30,874.75 L370.50,874.75 L371.70,874.75 L372.89,874.76 L374.09,874.76 L375.28,874.76 L376.48,874.77 L377.68,874.77 L378.87,874.77 L380.07,874.77 L381.26,874.78 L382.46,874.78 L383.66,874.78 L384.85,874.78 L386.05,874.78 L387.25,874.79 L388.44,874.79 L389.64,874.78 L390.83,874.78 L392.03,874.77 L393.23,874.77 L394.42,874.76 L395.62,874.76 L396.81,874.75 L398.01,874.75 L399.21,874.74 L400.40,874.74 L401.60,874.73 L402.79,874.73 L403.99,874.72 L405.19,874.71 L406.38,874.71 L407.58,874.70 L407.58,874.70 L406.38,875.32 L405.19,875.82 L403.99,876.23 L402.79,876.57 L401.60,876.84 L400.40,877.07 L399.21,877.25 L398.01,877.41 L396.81,877.53 L395.62,877.63 L394.42,877.71 L393.23,877.78 L392.03,877.84 L390.83,877.88 L389.64,877.92 L388.44,877.95 L387.25,877.98 L386.05,878.00 L384.85,878.01 L383.66,878.03 L382.46,878.04 L381.26,878.05 L380.07,878.06 L378.87,878.06 L377.68,878.07 L376.48,878.07 L375.28,878.08 L374.09,878.08 L372.89,878.08 L371.70,878.08 L370.50,878.09 L369.30,878.09 L368.11,878.09 L366.91,878.09 L365.72,878.09 L364.52,878.09 L363.32,878.09 L362.13,878.09 L360.93,878.09 L359.74,878.10 L358.54,878.10 L357.34,878.10 L356.15,878.10 L354.95,878.10 L353.76,878.10 L352.56,878.10 L351.36,878.10 L350.17,878.10 L348.97,878.11 L347.77,878.11 L346.58,878.11 L345.38,878.11 L344.19,878.11 L342.99,878.11 L341.79,878.12 L340.60,878.12 L339.40,878.12 L338.21,878.12 L337.01,878.13 L335.81,878.13 L334.62,878.13 L333.42,878.14 L332.23,878.14 L331.03,878.15 L329.83,878.15 L328.64,878.16 L327.44,878.16 L326.25,878.17 L325.05,878.18 L323.85,878.18 L322.66,878.19 L321.46,878.20 L320.27,878.21 L319.07,878.22 L317.87,878.23 L316.68,878.24 L315.48,878.25 L314.28,878.27 L313.09,878.28 L311.89,878.30 L310.70,878.32 L309.50,878.33 L308.30,878.35 L307.11,878.38 L305.91,878.40 L304.72,878.42 L303.52,878.45 L302.32,878.48 L301.13,878.51 L299.93,878.54 L298.74,878.58 L297.54,878.62 L296.34,878.66 L295.15,878.70 L293.95,878.75 L292.76,878.80 L291.56,878.85 L290.36,878.91 L289.17,878.97 L287.97,879.04 L286.78,879.11 L285.58,879.18 L284.38,879.27 L283.19,879.35 L281.99,879.44 L280.80,879.54 L279.60,879.65 L278.40,879.76 L277.21,879.88 L276.01,880.00 L274.81,880.14 L273.62,880.28 L272.42,880.43 L271.23,880.59 L270.03,880.76 L268.83,880.95 L267.64,881.14 L266.44,881.34 L265.25,881.56 L264.05,881.79 L262.85,882.03 L261.66,882.28 L260.46,882.55 L259.27,882.84 L258.07,883.14 L256.87,883.46 L255.68,883.79 L254.48,884.14 L253.29,884.51 L252.09,884.90 L250.89,885.31 L249.70,885.73 L248.50,886.18 L247.30,886.65 L246.11,887.14 L244.91,887.65 L243.72,888.19 L242.52,888.75 L241.32,889.33 L240.13,889.94 L238.93,890.57 L237.74,891.22 L236.54,891.90 L235.34,892.61 L234.15,893.33 L232.95,894.09 L231.76,894.86 L230.56,895.66 L229.36,896.48 L228.17,897.32 L226.97,898.18 L225.78,899.05 L224.58,899.94 L223.38,900.85 L222.19,901.77 L220.99,902.69 L219.80,903.62 L218.60,904.55 L217.40,905.47 L216.21,906.38 L215.01,907.26 L213.81,908.12 L212.62,908.93 L211.42,909.69 L210.23,910.35 L209.03,910.86 L207.83,910.94 L206.64,910.69 L205.44,910.22 L204.25,909.54 L203.05,908.66 L201.85,907.60 L200.66,906.38 L199.46,905.02 L198.27,903.55 L197.07,902.00 L195.87,900.38 L194.68,898.74 L193.48,897.08 L192.29,895.43 L191.09,893.82 L189.89,892.26 L188.70,890.76 L187.50,889.35 L186.31,888.02 L185.11,886.79 L183.91,885.66 L182.72,884.63 L181.52,883.71 L180.32,882.88 L179.13,882.14 L177.93,881.50 L176.74,880.93 L175.54,880.45 L174.34,880.03 L173.15,879.68 L171.95,879.38 L170.76,879.13 L169.56,878.92 L168.36,878.75 L167.17,878.61 L165.97,878.50 L164.78,878.41 L163.58,878.34 L162.38,878.28 L161.19,878.23 L159.99,878.20 L158.80,878.17 L157.60,878.15 L156.40,878.14 L155.21,878.12 L154.01,878.11 L152.82,878.11 L151.62,878.10 L150.42,878.10 L149.23,878.10 L148.03,878.09 L146.84,878.09 L145.64,878.09 L144.44,878.09 L143.25,878.09 L142.05,878.09 L140.85,878.09 L139.66,878.09 L138.46,878.09 L137.27,878.09 L136.07,878.09 L134.87,878.09 L133.68,878.09 L132.48,878.09 L131.29,878.09 L130.09,878.09 L128.89,878.09 L127.70,878.09 L126.50,878.09 L125.31,878.09 L124.11,878.09 L122.91,878.09 L121.72,878.09 L120.52,878.09" fill="none" stroke="#20BDB0" stroke-width="2.4" stroke-linejoin="round"/>
<path d="M120.52,877.62 L121.72,877.57 L122.91,877.52 L124.11,877.47 L125.31,877.43 L126.50,877.38 L127.70,877.33 L128.89,877.29 L130.09,877.24 L131.29,877.19 L132.48,877.14 L133.68,877.10 L134.87,877.05 L136.07,877.00 L137.27,876.95 L138.46,876.91 L139.66,876.86 L140.85,876.81 L142.05,876.76 L143.25,876.72 L144.44,876.67 L145.64,876.62 L146.83,876.57 L148.03,876.52 L149.23,876.48 L150.42,876.43 L151.62,876.38 L152.82,876.33 L154.01,876.29 L155.21,876.24 L156.40,876.19 L157.60,876.14 L158.80,876.09 L159.99,876.04 L161.19,875.99 L162.38,875.95 L163.58,875.90 L164.78,875.85 L165.97,875.80 L167.17,875.75 L168.36,875.70 L169.56,875.65 L170.76,875.60 L171.95,875.55 L173.15,875.50 L174.34,875.45 L175.54,875.40 L176.74,875.35 L177.93,875.30 L179.13,875.25 L180.32,875.20 L181.52,875.15 L182.72,875.10 L183.91,875.05 L185.11,874.99 L186.31,874.94 L187.50,874.89 L188.70,874.84 L189.89,874.78 L191.09,874.73 L192.29,874.67 L193.48,874.62 L194.68,874.57 L195.87,874.51 L197.07,874.45 L198.27,874.40 L199.46,874.34 L200.66,874.28 L201.85,874.22 L203.05,874.17 L204.25,874.11 L205.44,874.04 L206.64,873.98 L207.83,873.92 L209.03,873.86 L210.23,873.79 L211.42,873.73 L212.62,873.66 L213.81,873.60 L215.01,873.53 L216.21,873.46 L217.40,873.39 L218.60,873.31 L219.80,873.24 L220.99,873.17 L222.19,873.09 L223.38,873.01 L224.58,872.93 L225.78,872.85 L226.97,872.76 L228.17,872.67 L229.36,872.58 L230.56,872.49 L231.76,872.40 L232.95,872.30 L234.15,872.20 L235.34,872.10 L236.54,871.99 L237.74,871.88 L238.93,871.76 L240.13,871.65 L241.32,871.52 L242.52,871.40 L243.72,871.27 L244.91,871.13 L246.11,870.99 L247.30,870.84 L248.50,870.69 L249.70,870.53 L250.89,870.37 L252.09,870.20 L253.29,870.02 L254.48,869.84 L255.68,869.64 L256.87,869.44 L258.07,869.23 L259.27,869.02 L260.46,868.79 L261.66,868.55 L262.85,868.30 L264.05,868.05 L265.25,867.78 L266.44,867.50 L267.64,867.21 L268.83,866.91 L270.03,866.60 L271.23,866.27 L272.42,865.94 L273.62,865.60 L274.81,865.25 L276.01,864.90 L277.21,864.55 L278.40,864.20 L279.60,863.87 L280.79,863.58 L281.99,863.33 L283.19,863.15 L284.38,863.06 L285.58,863.07 L286.78,863.17 L287.97,863.36 L289.17,863.65 L290.36,864.03 L291.56,864.51 L292.76,865.06 L293.95,865.67 L295.15,866.34 L296.34,867.04 L297.54,867.76 L298.74,868.49 L299.93,869.21 L301.13,869.90 L302.32,870.57 L303.52,871.19 L304.72,871.76 L305.91,872.29 L307.11,872.76 L308.30,873.19 L309.50,873.56 L310.70,873.88 L311.89,874.16 L313.09,874.40 L314.28,874.60 L315.48,874.77 L316.68,874.91 L317.87,875.03 L319.07,875.13 L320.27,875.21 L321.46,875.28 L322.66,875.34 L323.85,875.38 L325.05,875.42 L326.25,875.46 L327.44,875.49 L328.64,875.51 L329.83,875.53 L331.03,875.55 L332.23,875.57 L333.42,875.58 L334.62,875.60 L335.81,875.61 L337.01,875.62 L338.21,875.63 L339.40,875.64 L340.60,875.65 L341.79,875.65 L342.99,875.66 L344.19,875.67 L345.38,875.67 L346.58,875.68 L347.77,875.68 L348.97,875.69 L350.17,875.69 L351.36,875.70 L352.56,875.70 L353.76,875.70 L354.95,875.71 L356.15,875.71 L357.34,875.71 L358.54,875.71 L359.74,875.72 L360.93,875.72 L362.13,875.72 L363.32,875.72 L364.52,875.72 L365.72,875.72 L366.91,875.73 L368.11,875.73 L369.30,875.73 L370.50,875.73 L371.70,875.73 L372.89,875.73 L374.09,875.73 L375.28,875.73 L376.48,875.73 L377.68,875.73 L378.87,875.73 L380.07,875.73 L381.26,875.73 L382.46,875.74 L383.66,875.74 L384.85,875.74 L386.05,875.74 L387.25,875.74 L388.44,875.74 L389.64,875.73 L390.83,875.73 L392.03,875.73 L393.23,875.72 L394.42,875.72 L395.62,875.72 L396.81,875.71 L398.01,875.71 L399.21,875.71 L400.40,875.70 L401.60,875.70 L402.79,875.70 L403.99,875.69 L405.19,875.69 L406.38,875.69 L407.58,875.68 L407.58,875.68 L406.38,876.12 L405.19,876.48 L403.99,876.77 L402.79,877.01 L401.60,877.20 L400.40,877.36 L399.21,877.50 L398.01,877.60 L396.81,877.69 L395.62,877.76 L394.42,877.82 L393.23,877.87 L392.03,877.91 L390.83,877.94 L389.64,877.97 L388.44,877.99 L387.25,878.01 L386.05,878.02 L384.85,878.04 L383.66,878.05 L382.46,878.05 L381.26,878.06 L380.07,878.07 L378.87,878.07 L377.68,878.07 L376.48,878.08 L375.28,878.08 L374.09,878.08 L372.89,878.08 L371.70,878.08 L370.50,878.09 L369.30,878.09 L368.11,878.09 L366.91,878.09 L365.72,878.09 L364.52,878.09 L363.32,878.09 L362.13,878.09 L360.93,878.09 L359.74,878.09 L358.54,878.09 L357.34,878.09 L356.15,878.09 L354.95,878.09 L353.76,878.09 L352.56,878.09 L351.36,878.09 L350.17,878.09 L348.97,878.09 L347.77,878.09 L346.58,878.09 L345.38,878.09 L344.19,878.09 L342.99,878.09 L341.79,878.10 L340.60,878.10 L339.40,878.10 L338.21,878.10 L337.01,878.10 L335.81,878.10 L334.62,878.10 L333.42,878.10 L332.23,878.10 L331.03,878.10 L329.83,878.11 L328.64,878.11 L327.44,878.11 L326.25,878.11 L325.05,878.11 L323.85,878.12 L322.66,878.12 L321.46,878.12 L320.27,878.12 L319.07,878.13 L317.87,878.13 L316.68,878.14 L315.48,878.14 L314.28,878.15 L313.09,878.15 L311.89,878.16 L310.70,878.16 L309.50,878.17 L308.30,878.18 L307.11,878.19 L305.91,878.20 L304.72,878.21 L303.52,878.22 L302.32,878.23 L301.13,878.25 L299.93,878.26 L298.74,878.28 L297.54,878.30 L296.34,878.32 L295.15,878.34 L293.95,878.36 L292.76,878.39 L291.56,878.42 L290.36,878.45 L289.17,878.48 L287.97,878.52 L286.78,878.55 L285.58,878.60 L284.38,878.64 L283.19,878.69 L281.99,878.74 L280.80,878.80 L279.60,878.86 L278.40,878.93 L277.21,879.00 L276.01,879.08 L274.81,879.16 L273.62,879.25 L272.42,879.34 L271.23,879.45 L270.03,879.56 L268.83,879.68 L267.64,879.80 L266.44,879.94 L265.25,880.09 L264.05,880.24 L262.85,880.41 L261.66,880.59 L260.46,880.78 L259.27,880.98 L258.07,881.20 L256.87,881.43 L255.68,881.67 L254.48,881.93 L253.29,882.20 L252.09,882.49 L250.89,882.79 L249.70,883.12 L248.50,883.46 L247.30,883.82 L246.11,884.19 L244.91,884.59 L243.72,885.00 L242.52,885.44 L241.32,885.89 L240.13,886.36 L238.93,886.86 L237.74,887.37 L236.54,887.90 L235.34,888.44 L234.15,889.01 L232.95,889.59 L231.76,890.18 L230.56,890.78 L229.36,891.40 L228.17,892.02 L226.97,892.65 L225.78,893.28 L224.58,893.90 L223.38,894.50 L222.19,895.09 L220.99,895.65 L219.80,896.16 L218.60,896.60 L217.40,896.88 L216.21,896.79 L215.01,896.50 L213.81,896.04 L212.62,895.41 L211.42,894.63 L210.23,893.72 L209.03,892.72 L207.83,891.63 L206.64,890.50 L205.44,889.35 L204.25,888.20 L203.05,887.07 L201.85,885.98 L200.66,884.95 L199.46,883.99 L198.27,883.11 L197.07,882.32 L195.87,881.60 L194.68,880.98 L193.48,880.43 L192.29,879.96 L191.09,879.56 L189.89,879.23 L188.70,878.95 L187.50,878.73 L186.31,878.54 L185.11,878.39 L183.91,878.27 L182.72,878.18 L181.52,878.11 L180.32,878.05 L179.13,878.01 L177.93,877.97 L176.74,877.94 L175.54,877.92 L174.34,877.91 L173.15,877.89 L171.95,877.88 L170.76,877.87 L169.56,877.86 L168.36,877.86 L167.17,877.85 L165.97,877.84 L164.78,877.84 L163.58,877.83 L162.38,877.82 L161.19,877.82 L159.99,877.81 L158.80,877.81 L157.60,877.80 L156.40,877.79 L155.21,877.79 L154.01,877.78 L152.82,877.78 L151.62,877.77 L150.42,877.76 L149.23,877.76 L148.03,877.75 L146.84,877.75 L145.64,877.74 L144.44,877.74 L143.25,877.73 L142.05,877.72 L140.85,877.72 L139.66,877.71 L138.46,877.71 L137.27,877.70 L136.07,877.70 L134.87,877.69 L133.68,877.68 L132.48,877.68 L131.29,877.67 L130.09,877.67 L128.89,877.66 L127.70,877.65 L126.50,877.65 L125.31,877.64 L124.11,877.64 L122.91,877.63 L121.72,877.63 L120.52,877.62" fill="none" stroke="#17706E" stroke-width="2.4" stroke-linejoin="round"/>
<rect x="96.60" y="736.20" width="334.90" height="281.90" fill="none" stroke="#000" stroke-width="2.2"/>
<line x1="96.60" y1="1018.10" x2="96.60" y2="1015.60" stroke="#000" stroke-width="1.8"/>
<line x1="144.44" y1="1018.10" x2="144.44" y2="1015.60" stroke="#000" stroke-width="1.8"/>
<line x1="192.29" y1="1018.10" x2="192.29" y2="1015.60" stroke="#000" stroke-width="1.8"/>
<line x1="240.13" y1="1018.10" x2="240.13" y2="1015.60" stroke="#000" stroke-width="1.8"/>
<line x1="287.97" y1="1018.10" x2="287.97" y2="1015.60" stroke="#000" stroke-width="1.8"/>
<line x1="335.81" y1="1018.10" x2="335.81" y2="1015.60" stroke="#000" stroke-width="1.8"/>
<line x1="383.66" y1="1018.10" x2="383.66" y2="1015.60" stroke="#000" stroke-width="1.8"/>
<line x1="431.50" y1="1018.10" x2="431.50" y2="1015.60" stroke="#000" stroke-width="1.8"/>
<line x1="120.52" y1="1018.10" x2="120.52" y2="1016.60" stroke="#000" stroke-width="1.2"/>
<line x1="168.36" y1="1018.10" x2="168.36" y2="1016.60" stroke="#000" stroke-width="1.2"/>
<line x1="216.21" y1="1018.10" x2="216.21" y2="1016.60" stroke="#000" stroke-width="1.2"/>
<line x1="264.05" y1="1018.10" x2="264.05" y2="1016.60" stroke="#000" stroke-width="1.2"/>
<line x1="311.89" y1="1018.10" x2="311.89" y2="1016.60" stroke="#000" stroke-width="1.2"/>
<line x1="359.74" y1="1018.10" x2="359.74" y2="1016.60" stroke="#000" stroke-width="1.2"/>
<line x1="407.58" y1="1018.10" x2="407.58" y2="1016.60" stroke="#000" stroke-width="1.2"/>
<line x1="96.60" y1="1018.10" x2="99.10" y2="1018.10" stroke="#000" stroke-width="1.8"/>
<line x1="96.60" y1="971.12" x2="99.10" y2="971.12" stroke="#000" stroke-width="1.8"/>
<line x1="96.60" y1="924.13" x2="99.10" y2="924.13" stroke="#000" stroke-width="1.8"/>
<line x1="96.60" y1="877.15" x2="99.10" y2="877.15" stroke="#000" stroke-width="1.8"/>
<line x1="96.60" y1="830.17" x2="99.10" y2="830.17" stroke="#000" stroke-width="1.8"/>
<line x1="96.60" y1="783.18" x2="99.10" y2="783.18" stroke="#000" stroke-width="1.8"/>
<line x1="96.60" y1="736.20" x2="99.10" y2="736.20" stroke="#000" stroke-width="1.8"/>
<text x="92.0" y="1024.7" font-size="21.69" fill="#000" text-anchor="end" font-weight="bold" textLength="18.2" lengthAdjust="spacingAndGlyphs">-3</text>
<text x="92.0" y="977.7" font-size="21.69" fill="#000" text-anchor="end" font-weight="bold" textLength="18.2" lengthAdjust="spacingAndGlyphs">-2</text>
<text x="92.0" y="930.7" font-size="21.69" fill="#000" text-anchor="end" font-weight="bold" textLength="18.2" lengthAdjust="spacingAndGlyphs">-1</text>
<text x="92.0" y="883.8" font-size="21.69" fill="#000" text-anchor="end" font-weight="bold" textLength="11.4" lengthAdjust="spacingAndGlyphs">0</text>
<text x="92.0" y="836.8" font-size="21.69" fill="#000" text-anchor="end" font-weight="bold" textLength="11.4" lengthAdjust="spacingAndGlyphs">1</text>
<text x="92.0" y="789.8" font-size="21.69" fill="#000" text-anchor="end" font-weight="bold" textLength="11.4" lengthAdjust="spacingAndGlyphs">2</text>
<text x="92.0" y="742.8" font-size="21.69" fill="#000" text-anchor="end" font-weight="bold" textLength="11.4" lengthAdjust="spacingAndGlyphs">3</text>
<text x="96.6" y="1041.7" font-size="21.69" fill="#000" text-anchor="middle" font-weight="bold" textLength="28.5" lengthAdjust="spacingAndGlyphs">0.6</text>
<text x="144.4" y="1041.7" font-size="21.69" fill="#000" text-anchor="middle" font-weight="bold" textLength="28.5" lengthAdjust="spacingAndGlyphs">0.8</text>
<text x="192.3" y="1041.7" font-size="21.69" fill="#000" text-anchor="middle" font-weight="bold" textLength="28.5" lengthAdjust="spacingAndGlyphs">1.0</text>
<text x="240.1" y="1041.7" font-size="21.69" fill="#000" text-anchor="middle" font-weight="bold" textLength="28.5" lengthAdjust="spacingAndGlyphs">1.2</text>
<text x="288.0" y="1041.7" font-size="21.69" fill="#000" text-anchor="middle" font-weight="bold" textLength="28.5" lengthAdjust="spacingAndGlyphs">1.4</text>
<text x="335.8" y="1041.7" font-size="21.69" fill="#000" text-anchor="middle" font-weight="bold" textLength="28.5" lengthAdjust="spacingAndGlyphs">1.6</text>
<text x="383.7" y="1041.7" font-size="21.69" fill="#000" text-anchor="middle" font-weight="bold" textLength="28.5" lengthAdjust="spacingAndGlyphs">1.8</text>
<text x="431.5" y="1041.7" font-size="21.69" fill="#000" text-anchor="middle" font-weight="bold" textLength="28.5" lengthAdjust="spacingAndGlyphs">2.0</text>
<text x="135.0" y="1063.7" font-size="22.2" fill="#000" font-weight="bold" textLength="92.6" lengthAdjust="spacingAndGlyphs">Potential</text>
<text x="236.6" y="1064.2" font-size="16.5" fill="#000" font-weight="bold">(</text>
<text x="242.6" y="1063.7" font-size="22.2" fill="#000" font-weight="bold" textLength="121.2" lengthAdjust="spacingAndGlyphs">V vs. Zn/Zn</text>
<text x="364.0" y="1057.7" font-size="14.5" fill="#000" font-weight="bold" textLength="22.3" lengthAdjust="spacingAndGlyphs">2+</text>
<text x="386.8" y="1064.2" font-size="16.5" fill="#000" font-weight="bold">)</text>
<text transform="translate(66.1,1019.8) rotate(-90)" x="0" y="0" font-size="24.3" fill="#000" font-weight="bold" textLength="175.4" lengthAdjust="spacingAndGlyphs">Current density</text>
<text transform="translate(67.8,843.4) rotate(-90)" x="0" y="0" font-size="11" fill="#000" font-weight="bold">(</text>
<text transform="translate(66.1,837.6) rotate(-90)" x="0" y="0" font-size="24.3" fill="#000" font-weight="bold" textLength="80.3" lengthAdjust="spacingAndGlyphs">mA cm</text>
<text transform="translate(58.7,756.8) rotate(-90)" x="0" y="0" font-size="17" fill="#000" font-weight="bold" textLength="17.4" lengthAdjust="spacingAndGlyphs">-2</text>
<text transform="translate(67.8,739.6) rotate(-90)" x="0" y="0" font-size="11" fill="#000" font-weight="bold">)</text>
<line x1="303" y1="895.6" x2="322" y2="895.6" stroke="#17706E" stroke-width="2.6"/>
<text x="331.6" y="900.8" font-size="21" fill="#000" font-weight="bold">5 mV/s</text>
<line x1="303" y1="923" x2="322" y2="923" stroke="#20BDB0" stroke-width="2.6"/>
<text x="331.6" y="928.2" font-size="21" fill="#000" font-weight="bold">10 mV/s</text>
<line x1="303" y1="950.4" x2="322" y2="950.4" stroke="#A8E2D2" stroke-width="2.6"/>
<text x="331.6" y="955.6" font-size="21" fill="#000" font-weight="bold">20 mV/s</text>
<line x1="303" y1="977.4" x2="322" y2="977.4" stroke="#F58D2E" stroke-width="2.6"/>
<text x="331.6" y="982.6" font-size="21" fill="#000" font-weight="bold">30 mV/s</text>
<line x1="303" y1="1005.5" x2="322" y2="1005.5" stroke="#9A4C10" stroke-width="2.6"/>
<text x="331.6" y="1010.7" font-size="21" fill="#000" font-weight="bold">50 mV/s</text>
<path d="M504.60,1017.00 C504.62,996.94 504.63,892.76 504.73,866.53 C504.84,840.29 504.98,829.24 505.41,820.23 C505.84,811.21 506.74,803.90 507.97,798.93 C509.20,793.96 513.39,787.83 514.63,782.95 C515.88,778.08 516.82,768.18 517.28,762.35 C517.74,756.52 517.91,736.11 518.09,739.20 C518.27,742.29 518.38,772.94 518.63,785.50 C518.88,798.06 519.06,825.95 519.95,833.42 C520.83,840.89 523.84,836.92 525.26,841.52 C526.68,846.12 529.78,856.86 530.60,867.91 C531.43,878.96 531.26,904.86 531.44,924.40 C531.62,943.94 531.86,1002.45 531.93,1014.45" fill="none" stroke="#9A4C10" stroke-width="2.4"/>
<path d="M504.60,1017.00 C504.62,998.48 504.63,902.79 504.73,878.10 C504.84,853.41 504.98,842.02 505.41,831.80 C505.84,821.58 506.57,807.28 507.97,801.47 C509.38,795.67 514.18,792.88 515.96,788.28 C517.73,783.68 520.30,773.52 521.30,766.98 C522.29,760.44 523.07,737.35 523.40,739.20 C523.73,741.05 523.50,770.07 523.75,780.87 C524.00,791.67 524.53,812.85 525.26,820.23 C526.00,827.60 527.66,832.31 529.26,836.20 C530.85,840.09 535.64,843.38 537.24,849.39 C538.84,855.41 540.59,859.70 541.23,881.34 C541.87,902.98 541.93,994.30 542.04,1011.68" fill="none" stroke="#F58D2E" stroke-width="2.4"/>
<path d="M504.60,1017.00 C504.62,1001.57 504.64,922.86 504.73,901.25 C504.82,879.64 505.00,864.21 505.27,854.95 C505.54,845.69 506.04,837.85 506.76,831.80 C507.47,825.75 508.72,813.09 510.64,809.58 C512.57,806.06 518.71,808.25 521.19,805.41 C523.67,802.57 527.87,793.40 529.26,788.28 C530.64,783.15 531.15,773.52 531.58,766.98 C532.00,760.44 532.30,736.73 532.47,739.20 C532.63,741.67 532.66,775.01 532.79,785.50 C532.92,795.99 532.51,812.57 533.46,817.91 C534.41,823.25 537.63,823.11 539.91,825.55 C542.19,827.99 548.41,831.26 550.54,836.20 C552.67,841.14 554.81,850.83 555.88,862.59 C556.95,874.35 558.02,904.15 558.55,924.40 C559.08,944.65 559.70,1002.45 559.87,1014.45" fill="none" stroke="#B0E6D8" stroke-width="2.4"/>
<path d="M504.60,1017.00 C504.62,1004.65 504.63,942.92 504.73,924.40 C504.84,905.88 504.98,888.44 505.41,878.10 C505.84,867.76 506.57,854.56 507.97,846.85 C509.38,839.13 513.47,824.86 515.96,820.23 C518.44,815.60 523.42,813.73 526.61,812.12 C529.81,810.52 536.36,809.95 539.91,808.19 C543.46,806.43 550.37,802.66 553.21,798.93 C556.05,795.19 559.67,788.14 561.19,780.18 C562.72,772.21 564.10,740.03 564.65,739.20 C565.19,738.37 565.05,765.62 565.29,773.93 C565.54,782.23 565.63,795.30 566.51,801.47 C567.38,807.65 569.01,816.86 571.85,820.23 C574.69,823.59 583.89,824.76 587.79,826.71 C591.69,828.65 597.92,831.78 601.12,834.81 C604.31,837.83 609.26,842.85 611.74,849.39 C614.23,855.94 618.13,870.77 619.73,883.89 C621.33,897.01 622.94,930.37 623.72,947.78 C624.50,965.19 625.33,1005.56 625.58,1014.45" fill="none" stroke="#20BDB0" stroke-width="2.4"/>
<path d="M504.60,1017.00 C504.62,1007.74 504.64,963.17 504.73,947.55 C504.83,931.93 504.91,909.12 505.33,899.86 C505.74,890.60 506.77,884.83 507.84,878.10 C508.90,871.37 510.81,855.88 513.31,849.39 C515.82,842.91 523.07,833.37 526.61,829.49 C530.16,825.60 534.23,822.17 539.91,820.23 C545.59,818.28 560.31,815.98 569.18,814.90 C578.05,813.82 597.92,813.39 606.43,812.12 C614.94,810.86 627.34,807.91 633.00,805.41 C638.67,802.91 645.36,797.45 648.92,793.37 C652.47,789.30 657.87,782.07 659.65,774.85 C661.44,767.63 661.86,739.94 662.30,739.20 C662.73,738.46 662.59,761.70 662.94,769.30 C663.30,776.89 663.63,790.78 664.97,796.15 C666.30,801.52 670.11,806.74 672.95,809.58 C675.79,812.42 680.93,815.87 686.25,817.45 C691.57,819.02 703.98,820.49 712.85,821.38 C721.72,822.28 743.90,823.27 752.77,824.16 C761.64,825.06 773.34,826.15 779.37,828.10 C785.40,830.04 793.73,835.20 797.98,838.75 C802.23,842.29 808.44,849.04 811.28,854.72 C814.12,860.40 817.84,872.48 819.26,881.34 C820.68,890.20 821.38,910.79 821.93,921.16 C822.49,931.53 823.09,946.65 823.44,959.12 C823.80,971.60 824.45,1007.28 824.60,1014.69" fill="none" stroke="#17706E" stroke-width="2.4"/>
<rect x="504.60" y="739.20" width="323.70" height="277.80" fill="none" stroke="#000" stroke-width="2.2"/>
<line x1="504.60" y1="1017.00" x2="504.60" y2="1014.50" stroke="#000" stroke-width="1.8"/>
<line x1="558.55" y1="1017.00" x2="558.55" y2="1014.50" stroke="#000" stroke-width="1.8"/>
<line x1="612.50" y1="1017.00" x2="612.50" y2="1014.50" stroke="#000" stroke-width="1.8"/>
<line x1="666.45" y1="1017.00" x2="666.45" y2="1014.50" stroke="#000" stroke-width="1.8"/>
<line x1="720.40" y1="1017.00" x2="720.40" y2="1014.50" stroke="#000" stroke-width="1.8"/>
<line x1="774.35" y1="1017.00" x2="774.35" y2="1014.50" stroke="#000" stroke-width="1.8"/>
<line x1="828.30" y1="1017.00" x2="828.30" y2="1014.50" stroke="#000" stroke-width="1.8"/>
<line x1="531.58" y1="1017.00" x2="531.58" y2="1015.50" stroke="#000" stroke-width="1.2"/>
<line x1="585.52" y1="1017.00" x2="585.52" y2="1015.50" stroke="#000" stroke-width="1.2"/>
<line x1="639.48" y1="1017.00" x2="639.48" y2="1015.50" stroke="#000" stroke-width="1.2"/>
<line x1="693.42" y1="1017.00" x2="693.42" y2="1015.50" stroke="#000" stroke-width="1.2"/>
<line x1="747.38" y1="1017.00" x2="747.38" y2="1015.50" stroke="#000" stroke-width="1.2"/>
<line x1="801.32" y1="1017.00" x2="801.32" y2="1015.50" stroke="#000" stroke-width="1.2"/>
<line x1="504.60" y1="1017.00" x2="507.10" y2="1017.00" stroke="#000" stroke-width="1.8"/>
<line x1="504.60" y1="970.70" x2="507.10" y2="970.70" stroke="#000" stroke-width="1.8"/>
<line x1="504.60" y1="924.40" x2="507.10" y2="924.40" stroke="#000" stroke-width="1.8"/>
<line x1="504.60" y1="878.10" x2="507.10" y2="878.10" stroke="#000" stroke-width="1.8"/>
<line x1="504.60" y1="831.80" x2="507.10" y2="831.80" stroke="#000" stroke-width="1.8"/>
<line x1="504.60" y1="785.50" x2="507.10" y2="785.50" stroke="#000" stroke-width="1.8"/>
<line x1="504.60" y1="739.20" x2="507.10" y2="739.20" stroke="#000" stroke-width="1.8"/>
<text x="500.3" y="1023.6" font-size="21.69" fill="#000" text-anchor="end" font-weight="bold" textLength="28.5" lengthAdjust="spacingAndGlyphs">0.4</text>
<text x="500.3" y="977.3" font-size="21.69" fill="#000" text-anchor="end" font-weight="bold" textLength="28.5" lengthAdjust="spacingAndGlyphs">0.6</text>
<text x="500.3" y="931.0" font-size="21.69" fill="#000" text-anchor="end" font-weight="bold" textLength="28.5" lengthAdjust="spacingAndGlyphs">0.8</text>
<text x="500.3" y="884.7" font-size="21.69" fill="#000" text-anchor="end" font-weight="bold" textLength="28.5" lengthAdjust="spacingAndGlyphs">1.0</text>
<text x="500.3" y="838.4" font-size="21.69" fill="#000" text-anchor="end" font-weight="bold" textLength="28.5" lengthAdjust="spacingAndGlyphs">1.2</text>
<text x="500.3" y="792.1" font-size="21.69" fill="#000" text-anchor="end" font-weight="bold" textLength="28.5" lengthAdjust="spacingAndGlyphs">1.4</text>
<text x="500.3" y="745.8" font-size="21.69" fill="#000" text-anchor="end" font-weight="bold" textLength="28.5" lengthAdjust="spacingAndGlyphs">1.6</text>
<text x="504.6" y="1039.0" font-size="21.69" fill="#000" text-anchor="middle" font-weight="bold" textLength="11.4" lengthAdjust="spacingAndGlyphs">0</text>
<text x="558.5" y="1039.0" font-size="21.69" fill="#000" text-anchor="middle" font-weight="bold" textLength="34.2" lengthAdjust="spacingAndGlyphs">200</text>
<text x="612.5" y="1039.0" font-size="21.69" fill="#000" text-anchor="middle" font-weight="bold" textLength="34.2" lengthAdjust="spacingAndGlyphs">400</text>
<text x="666.5" y="1039.0" font-size="21.69" fill="#000" text-anchor="middle" font-weight="bold" textLength="34.2" lengthAdjust="spacingAndGlyphs">600</text>
<text x="720.4" y="1039.0" font-size="21.69" fill="#000" text-anchor="middle" font-weight="bold" textLength="34.2" lengthAdjust="spacingAndGlyphs">800</text>
<text x="774.3" y="1039.0" font-size="21.69" fill="#000" text-anchor="middle" font-weight="bold" textLength="45.6" lengthAdjust="spacingAndGlyphs">1000</text>
<text x="828.3" y="1039.0" font-size="21.69" fill="#000" text-anchor="middle" font-weight="bold" textLength="45.6" lengthAdjust="spacingAndGlyphs">1200</text>
<text x="625.6" y="1061.5" font-size="22.4" fill="#000" font-weight="bold" textLength="81.8" lengthAdjust="spacingAndGlyphs">Time (s)</text>
<text transform="translate(466.0,945.4) rotate(-90)" x="0" y="0" font-size="22.4" fill="#000" font-weight="bold" textLength="134.4" lengthAdjust="spacingAndGlyphs">Potential (V)</text>
<line x1="638.7" y1="871.4" x2="656.5" y2="871.4" stroke="#17706E" stroke-width="2.6"/>
<text x="669.0" y="876.8" font-size="21.7" fill="#000" font-weight="bold" textLength="116.7" lengthAdjust="spacingAndGlyphs">0.02 mA/cm</text>
<text x="786.5" y="870.4" font-size="16" fill="#000" font-weight="bold">2</text>
<line x1="638.7" y1="902.3" x2="656.5" y2="902.3" stroke="#20BDB0" stroke-width="2.6"/>
<text x="669.0" y="907.7" font-size="21.7" fill="#000" font-weight="bold" textLength="116.7" lengthAdjust="spacingAndGlyphs">0.05 mA/cm</text>
<text x="786.5" y="901.3" font-size="16" fill="#000" font-weight="bold">2</text>
<line x1="638.7" y1="932.9" x2="656.5" y2="932.9" stroke="#B0E6D8" stroke-width="2.6"/>
<text x="669.0" y="938.3" font-size="21.7" fill="#000" font-weight="bold" textLength="116.7" lengthAdjust="spacingAndGlyphs">0.10 mA/cm</text>
<text x="786.5" y="931.9" font-size="16" fill="#000" font-weight="bold">2</text>
<line x1="638.7" y1="963.9" x2="656.5" y2="963.9" stroke="#F58D2E" stroke-width="2.6"/>
<text x="669.0" y="969.3" font-size="21.7" fill="#000" font-weight="bold" textLength="116.7" lengthAdjust="spacingAndGlyphs">0.15 mA/cm</text>
<text x="786.5" y="962.9" font-size="16" fill="#000" font-weight="bold">2</text>
<line x1="638.7" y1="994.1" x2="656.5" y2="994.1" stroke="#9A4C10" stroke-width="2.6"/>
<text x="669.0" y="999.5" font-size="21.7" fill="#000" font-weight="bold" textLength="116.7" lengthAdjust="spacingAndGlyphs">0.20 mA/cm</text>
<text x="786.5" y="993.1" font-size="16" fill="#000" font-weight="bold">2</text>
<text x="840.3" y="715.0" font-size="34" fill="#000" font-weight="bold">i</text>
<path d="M1035.90,784.50 L1161.50,874.80 L1114.70,1023.40 L956.30,1023.40 L909.20,874.80 Z" fill="none" stroke="#777" stroke-width="1.7" stroke-dasharray="7,5"/>
<path d="M1035.82,810.78 L1136.30,883.02 L1098.86,1001.90 L972.14,1001.90 L934.46,883.02 Z" fill="none" stroke="#777" stroke-width="1.7" stroke-dasharray="7,5"/>
<path d="M1035.74,837.06 L1111.10,891.24 L1083.02,980.40 L987.98,980.40 L959.72,891.24 Z" fill="none" stroke="#777" stroke-width="1.7" stroke-dasharray="7,5"/>
<path d="M1035.66,863.34 L1085.90,899.46 L1067.18,958.90 L1003.82,958.90 L984.98,899.46 Z" fill="none" stroke="#777" stroke-width="1.7" stroke-dasharray="7,5"/>
<path d="M1035.58,889.62 L1060.70,907.68 L1051.34,937.40 L1019.66,937.40 L1010.24,907.68 Z" fill="none" stroke="#777" stroke-width="1.7" stroke-dasharray="7,5"/>
<path d="M1036.20,789.20 L1156.70,875.10 L1099.90,1001.00 L983.40,992.90 L982.10,896.70 Z" fill="#3AAFA5" fill-opacity="0.8" stroke="#3AAFA5" stroke-width="1" stroke-opacity="1"/>
<path d="M1036.20,788.50 L1158.00,874.50 L1085.00,980.00 L978.00,995.00 L985.00,897.00 Z" fill="#20C4B8" fill-opacity="0.35" stroke="#20C4B8" stroke-width="1" stroke-opacity="0.55"/>
<path d="M1036.20,791.10 L1154.00,877.00 L1086.00,981.00 L980.00,993.00 L980.00,895.00 Z" fill="#9EDCC8" fill-opacity="0.6" stroke="#9EDCC8" stroke-width="1" stroke-opacity="0.8"/>
<path d="M1036.20,795.00 L1142.00,880.00 L1067.40,957.70 L975.00,996.00 L977.00,894.00 Z" fill="#F9D9BD" fill-opacity="0.6" stroke="#F9D9BD" stroke-width="1" stroke-opacity="0.8"/>
<path d="M1036.20,793.80 L1144.50,879.10 L1083.60,979.30 L972.60,1001.00 L972.60,892.70 Z" fill="#E8A050" fill-opacity="0.65" stroke="#E8A050" stroke-width="1" stroke-opacity="0.8500000000000001"/>
<path d="M1036.20,831.00 L1135.00,883.20 L1040.30,921.90 L972.60,1001.00 L953.60,888.60 Z" fill="#D88030" fill-opacity="0.7" stroke="#D88030" stroke-width="1" stroke-opacity="0.8999999999999999"/>
<line x1="1035.9" y1="779" x2="1035.9" y2="789" stroke="#111" stroke-width="1.9"/>
<line x1="1161.5" y1="874.8" x2="1155" y2="876.5" stroke="#111" stroke-width="1.9"/>
<line x1="1114.7" y1="1023.4" x2="1067.4" y2="957.7" stroke="#111" stroke-width="1.9"/>
<line x1="956.3" y1="1023.4" x2="973.9" y2="1001" stroke="#111" stroke-width="1.9"/>
<line x1="909.2" y1="874.8" x2="983.4" y2="898" stroke="#111" stroke-width="1.9"/>
<text x="1014.3" y="759.6" font-size="22.5" fill="#000" font-weight="bold" textLength="49.5" lengthAdjust="spacingAndGlyphs">t<tspan font-size="16" dy="5">c</tspan><tspan dy="-5"> (s)</tspan></text>
<text x="1035.7" y="780.5" font-size="19.5" fill="#000" text-anchor="middle" font-weight="bold">0</text>
<text x="1167.3" y="880.6" font-size="20.5" fill="#000" font-weight="bold" textLength="10.5" lengthAdjust="spacingAndGlyphs">0</text>
<text x="1177.5" y="880.3" font-size="22.5" fill="#000" font-weight="bold" textLength="52.5" lengthAdjust="spacingAndGlyphs">t<tspan font-size="16" dy="5">b</tspan><tspan dy="-5"> (s)</tspan></text>
<text x="1129.2" y="1044.0" font-size="19.5" fill="#000" text-anchor="middle" font-weight="bold">200</text>
<text x="1095.3" y="1061.6" font-size="21.5" fill="#000" font-weight="bold" textLength="73.6" lengthAdjust="spacingAndGlyphs">CE (cm</text>
<text x="1169.2" y="1056.2" font-size="15" fill="#000" font-weight="bold">2</text>
<text x="1177.3" y="1061.6" font-size="21.5" fill="#000" font-weight="bold" textLength="31.8" lengthAdjust="spacingAndGlyphs">/C)</text>
<text x="955.7" y="1044.0" font-size="19.5" fill="#000" text-anchor="middle" font-weight="bold">100</text>
<text x="890.4" y="1061.8" font-size="20" fill="#000">&#916;</text>
<text x="905.3" y="1061.8" font-size="21.5" fill="#000" font-weight="bold" textLength="50.6" lengthAdjust="spacingAndGlyphs">T (%)</text>
<text x="892.5" y="877.0" font-size="19.5" fill="#000" text-anchor="middle" font-weight="bold">100</text>
<text transform="translate(874.0,997.8) rotate(-90)" x="0" y="0" font-size="21" fill="#000" font-weight="bold" textLength="233.0" lengthAdjust="spacingAndGlyphs">The cycling stability (%)</text>
<rect x="1153.5" y="744.4" width="26.4" height="12.6" fill="#4BB8AF" stroke="#2E9C94" stroke-width="0.8"/>
<text x="1183.4" y="756.4" font-size="16.5" fill="#000" font-weight="bold" textLength="73.6" lengthAdjust="spacingAndGlyphs">This work</text>
<rect x="1153.5" y="764.3" width="26.4" height="12.6" fill="#52D2C6" stroke="#3CC0B4" stroke-width="0.8"/>
<text x="1183.4" y="776.3" font-size="16.5" fill="#000" font-weight="bold" textLength="47.0" lengthAdjust="spacingAndGlyphs">Ref.17</text>
<rect x="1153.5" y="784.2" width="26.4" height="12.6" fill="#C6EEE0" stroke="#A8DCC8" stroke-width="0.8"/>
<text x="1183.4" y="796.2" font-size="16.5" fill="#000" font-weight="bold" textLength="47.0" lengthAdjust="spacingAndGlyphs">Ref.25</text>
<rect x="1153.5" y="804.1" width="26.4" height="12.6" fill="#FDEBDD" stroke="#F4D6C0" stroke-width="0.8"/>
<text x="1183.4" y="816.1" font-size="16.5" fill="#000" font-weight="bold" textLength="47.0" lengthAdjust="spacingAndGlyphs">Ref.46</text>
<rect x="1153.5" y="824.0" width="26.4" height="12.6" fill="#FBC48F" stroke="#F2AC6C" stroke-width="0.8"/>
<text x="1183.4" y="836.0" font-size="16.5" fill="#000" font-weight="bold" textLength="47.0" lengthAdjust="spacingAndGlyphs">Ref.47</text>
<rect x="1153.5" y="843.9" width="26.4" height="12.6" fill="#E8A878" stroke="#D89060" stroke-width="0.8"/>
<text x="1183.4" y="855.9" font-size="16.5" fill="#000" font-weight="bold" textLength="47.0" lengthAdjust="spacingAndGlyphs">Ref.48</text>
</svg></body></html>
